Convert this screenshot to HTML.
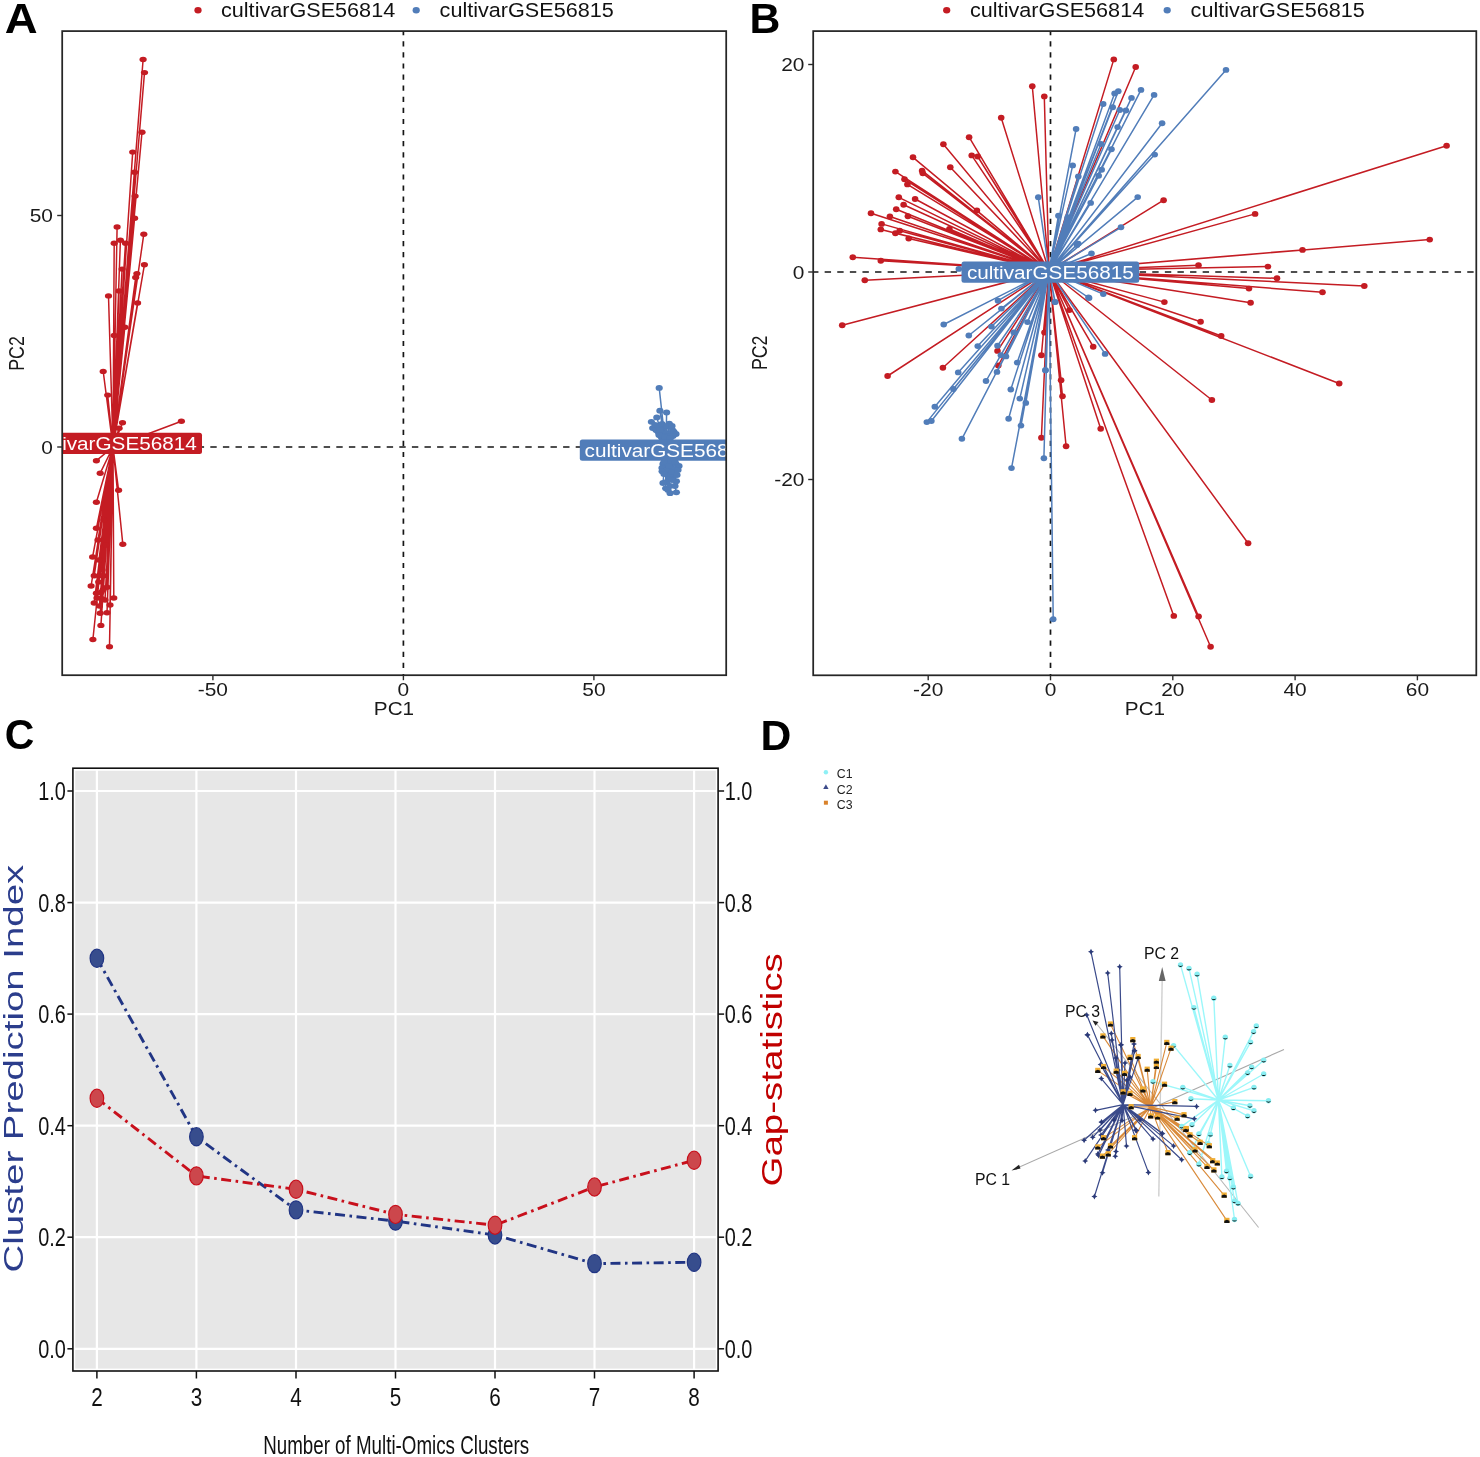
<!DOCTYPE html><html><head><meta charset="utf-8"><title>Figure</title><style>
html,body{margin:0;padding:0;background:#fff;width:1480px;height:1457px;overflow:hidden}
svg{display:block;will-change:transform}text{font-family:"Liberation Sans",sans-serif}
</style></head><body>
<svg width="1480" height="1457" viewBox="0 0 1480 1457">
<rect width="1480" height="1457" fill="#fff"/>
<defs>
<clipPath id="cA"><rect x="62.2" y="31.1" width="664.0" height="644.1"/></clipPath>
<clipPath id="cB"><rect x="813.2" y="31.1" width="663.0999999999999" height="644.1999999999999"/></clipPath>
</defs>
<text x="0" y="0" transform="translate(4.8,32.8) scale(1.066,1)" font-size="42.7" text-anchor="start" fill="#000" font-weight="bold" >A</text>
<text x="749.4" y="32.8" font-size="42.7" text-anchor="start" fill="#000" font-weight="bold" >B</text>
<text x="0" y="0" transform="translate(4.8,749.4) scale(0.96,1)" font-size="42.7" text-anchor="start" fill="#000" font-weight="bold" >C</text>
<text x="760.4" y="749.8" font-size="42.7" text-anchor="start" fill="#000" font-weight="bold" >D</text>
<g clip-path="url(#cA)">
<line x1="403.4" y1="31.1" x2="403.4" y2="675.2" stroke="#151515" stroke-width="1.7" stroke-dasharray="5.2 5.9" stroke-dashoffset="1"/>
<line x1="62.2" y1="447.0" x2="726.2" y2="447.0" stroke="#151515" stroke-width="1.7" stroke-dasharray="6.4 6.2" stroke-dashoffset="3.1"/>
<path d="M113 447L143.1 59.5M113 447L144.5 72.6M113 447L142 132.2M113 447L132.7 152.1M113 447L134.6 172.3M113 447L135.1 196.1M113 447L134.6 218.2M113 447L117.1 227M113 447L143.8 234.2M113 447L114.2 243.2M113 447L120.4 240.3M113 447L125.5 243.2M113 447L144.4 264.8M113 447L136.9 273.6M113 447L135.7 277.4M113 447L122.1 269.1M113 447L119.1 290.9M113 447L108.5 295.9M113 447L137.6 303M113 447L124.8 327.2M113 447L114.2 335.5M113 447L103.2 371.4M113 447L107.7 395.1M113 447L181.4 421.2M113 447L122.5 422.7M113 447L119.1 428.3M113 447L116 438M113 447L120 438M113 447L96.4 460.7M113 447L100.2 473.2M113 447L118.6 490.3M113 447L96.4 502.3M113 447L96.4 528.3M113 447L122.8 544.2M113 447L92.6 557M113 447L94.2 575.8M113 447L100.2 575.8M113 447L103.5 575.8M113 447L91.1 586M113 447L98.7 581.9M113 447L107 587.2M113 447L96.4 593.2M113 447L100.9 592.5M113 447L113.8 598M113 447L94.2 603M113 447L101.7 598.8M113 447L99.4 606M113 447L100.2 613.3M113 447L107 612.8M113 447L100.9 625.4M113 447L92.9 639.5M113 447L109.5 646.8M113 447L104 520M113 447L106 545M113 447L99 560M113 447L103 590M113 447L97 598M113 447L105 600M113 447L110 605M113 447L102 570M113 447L98 540" stroke="#C41C23" stroke-width="1.5" fill="none" stroke-linecap="round"/>
<ellipse cx="143.1" cy="59.5" rx="3.6" ry="2.7" fill="#C41C23"/>
<ellipse cx="144.5" cy="72.6" rx="3.6" ry="2.7" fill="#C41C23"/>
<ellipse cx="142" cy="132.2" rx="3.6" ry="2.7" fill="#C41C23"/>
<ellipse cx="132.7" cy="152.1" rx="3.6" ry="2.7" fill="#C41C23"/>
<ellipse cx="134.6" cy="172.3" rx="3.6" ry="2.7" fill="#C41C23"/>
<ellipse cx="135.1" cy="196.1" rx="3.6" ry="2.7" fill="#C41C23"/>
<ellipse cx="134.6" cy="218.2" rx="3.6" ry="2.7" fill="#C41C23"/>
<ellipse cx="117.1" cy="227" rx="3.6" ry="2.7" fill="#C41C23"/>
<ellipse cx="143.8" cy="234.2" rx="3.6" ry="2.7" fill="#C41C23"/>
<ellipse cx="114.2" cy="243.2" rx="3.6" ry="2.7" fill="#C41C23"/>
<ellipse cx="120.4" cy="240.3" rx="3.6" ry="2.7" fill="#C41C23"/>
<ellipse cx="125.5" cy="243.2" rx="3.6" ry="2.7" fill="#C41C23"/>
<ellipse cx="144.4" cy="264.8" rx="3.6" ry="2.7" fill="#C41C23"/>
<ellipse cx="136.9" cy="273.6" rx="3.6" ry="2.7" fill="#C41C23"/>
<ellipse cx="135.7" cy="277.4" rx="3.6" ry="2.7" fill="#C41C23"/>
<ellipse cx="122.1" cy="269.1" rx="3.6" ry="2.7" fill="#C41C23"/>
<ellipse cx="119.1" cy="290.9" rx="3.6" ry="2.7" fill="#C41C23"/>
<ellipse cx="108.5" cy="295.9" rx="3.6" ry="2.7" fill="#C41C23"/>
<ellipse cx="137.6" cy="303" rx="3.6" ry="2.7" fill="#C41C23"/>
<ellipse cx="124.8" cy="327.2" rx="3.6" ry="2.7" fill="#C41C23"/>
<ellipse cx="114.2" cy="335.5" rx="3.6" ry="2.7" fill="#C41C23"/>
<ellipse cx="103.2" cy="371.4" rx="3.6" ry="2.7" fill="#C41C23"/>
<ellipse cx="107.7" cy="395.1" rx="3.6" ry="2.7" fill="#C41C23"/>
<ellipse cx="181.4" cy="421.2" rx="3.6" ry="2.7" fill="#C41C23"/>
<ellipse cx="122.5" cy="422.7" rx="3.6" ry="2.7" fill="#C41C23"/>
<ellipse cx="119.1" cy="428.3" rx="3.6" ry="2.7" fill="#C41C23"/>
<ellipse cx="116" cy="438" rx="3.6" ry="2.7" fill="#C41C23"/>
<ellipse cx="120" cy="438" rx="3.6" ry="2.7" fill="#C41C23"/>
<ellipse cx="96.4" cy="460.7" rx="3.6" ry="2.7" fill="#C41C23"/>
<ellipse cx="100.2" cy="473.2" rx="3.6" ry="2.7" fill="#C41C23"/>
<ellipse cx="118.6" cy="490.3" rx="3.6" ry="2.7" fill="#C41C23"/>
<ellipse cx="96.4" cy="502.3" rx="3.6" ry="2.7" fill="#C41C23"/>
<ellipse cx="96.4" cy="528.3" rx="3.6" ry="2.7" fill="#C41C23"/>
<ellipse cx="122.8" cy="544.2" rx="3.6" ry="2.7" fill="#C41C23"/>
<ellipse cx="92.6" cy="557" rx="3.6" ry="2.7" fill="#C41C23"/>
<ellipse cx="94.2" cy="575.8" rx="3.6" ry="2.7" fill="#C41C23"/>
<ellipse cx="100.2" cy="575.8" rx="3.6" ry="2.7" fill="#C41C23"/>
<ellipse cx="103.5" cy="575.8" rx="3.6" ry="2.7" fill="#C41C23"/>
<ellipse cx="91.1" cy="586" rx="3.6" ry="2.7" fill="#C41C23"/>
<ellipse cx="98.7" cy="581.9" rx="3.6" ry="2.7" fill="#C41C23"/>
<ellipse cx="107" cy="587.2" rx="3.6" ry="2.7" fill="#C41C23"/>
<ellipse cx="96.4" cy="593.2" rx="3.6" ry="2.7" fill="#C41C23"/>
<ellipse cx="100.9" cy="592.5" rx="3.6" ry="2.7" fill="#C41C23"/>
<ellipse cx="113.8" cy="598" rx="3.6" ry="2.7" fill="#C41C23"/>
<ellipse cx="94.2" cy="603" rx="3.6" ry="2.7" fill="#C41C23"/>
<ellipse cx="101.7" cy="598.8" rx="3.6" ry="2.7" fill="#C41C23"/>
<ellipse cx="99.4" cy="606" rx="3.6" ry="2.7" fill="#C41C23"/>
<ellipse cx="100.2" cy="613.3" rx="3.6" ry="2.7" fill="#C41C23"/>
<ellipse cx="107" cy="612.8" rx="3.6" ry="2.7" fill="#C41C23"/>
<ellipse cx="100.9" cy="625.4" rx="3.6" ry="2.7" fill="#C41C23"/>
<ellipse cx="92.9" cy="639.5" rx="3.6" ry="2.7" fill="#C41C23"/>
<ellipse cx="109.5" cy="646.8" rx="3.6" ry="2.7" fill="#C41C23"/>
<ellipse cx="104" cy="520" rx="3.6" ry="2.7" fill="#C41C23"/>
<ellipse cx="106" cy="545" rx="3.6" ry="2.7" fill="#C41C23"/>
<ellipse cx="99" cy="560" rx="3.6" ry="2.7" fill="#C41C23"/>
<ellipse cx="103" cy="590" rx="3.6" ry="2.7" fill="#C41C23"/>
<ellipse cx="97" cy="598" rx="3.6" ry="2.7" fill="#C41C23"/>
<ellipse cx="105" cy="600" rx="3.6" ry="2.7" fill="#C41C23"/>
<ellipse cx="110" cy="605" rx="3.6" ry="2.7" fill="#C41C23"/>
<ellipse cx="102" cy="570" rx="3.6" ry="2.7" fill="#C41C23"/>
<ellipse cx="98" cy="540" rx="3.6" ry="2.7" fill="#C41C23"/>
<path d="M666 450L659.2 387.9M666 450L659.9 410.7M666 450L666.6 412.5M666 450L656.8 417.4M666 450L651.4 421.8M666 450L669.3 423.6M666 450L652.7 428.1M666 450L672.8 430.3M666 450L660 432M666 450L665 433M666 450L670 434M666 450L674 432M666 450L662 436M666 450L668 436M666 450L656 430M666 450L671 427M666 450L664 428M666 450L663 464M666 450L670 463M666 450L676 464M666 450L679 466M666 450L662 468M666 450L667 470M666 450L674 469M666 450L662.1 471.3M666 450L668 475M666 450L673 477M666 450L666.6 482M666 450L676.4 481.2M666 450L665.7 488.3M666 450L670.1 493.2M666 450L676.4 492.3M666 450L670 486M666 450L672 472M666 450L677 475M666 450L658 426M666 450L662 424M666 450L667 426M666 450L672 426M666 450L660 430M666 450L676 434M666 450L655 425M666 450L673 436M666 450L659 435M666 450L665 437M666 450L670 438M666 450L664 462M666 450L675 462M666 450L669 466M666 450L678 470M666 450L664 474M666 450L670 479M666 450L675 486M666 450L668 490M666 450L663 483M666 450L672 480" stroke="#517DB9" stroke-width="1.5" fill="none" stroke-linecap="round"/>
<ellipse cx="659.2" cy="387.9" rx="3.6" ry="2.9" fill="#517DB9"/>
<ellipse cx="659.9" cy="410.7" rx="3.6" ry="2.9" fill="#517DB9"/>
<ellipse cx="666.6" cy="412.5" rx="3.6" ry="2.9" fill="#517DB9"/>
<ellipse cx="656.8" cy="417.4" rx="3.6" ry="2.9" fill="#517DB9"/>
<ellipse cx="651.4" cy="421.8" rx="3.6" ry="2.9" fill="#517DB9"/>
<ellipse cx="669.3" cy="423.6" rx="3.6" ry="2.9" fill="#517DB9"/>
<ellipse cx="652.7" cy="428.1" rx="3.6" ry="2.9" fill="#517DB9"/>
<ellipse cx="672.8" cy="430.3" rx="3.6" ry="2.9" fill="#517DB9"/>
<ellipse cx="660" cy="432" rx="3.6" ry="2.9" fill="#517DB9"/>
<ellipse cx="665" cy="433" rx="3.6" ry="2.9" fill="#517DB9"/>
<ellipse cx="670" cy="434" rx="3.6" ry="2.9" fill="#517DB9"/>
<ellipse cx="674" cy="432" rx="3.6" ry="2.9" fill="#517DB9"/>
<ellipse cx="662" cy="436" rx="3.6" ry="2.9" fill="#517DB9"/>
<ellipse cx="668" cy="436" rx="3.6" ry="2.9" fill="#517DB9"/>
<ellipse cx="656" cy="430" rx="3.6" ry="2.9" fill="#517DB9"/>
<ellipse cx="671" cy="427" rx="3.6" ry="2.9" fill="#517DB9"/>
<ellipse cx="664" cy="428" rx="3.6" ry="2.9" fill="#517DB9"/>
<ellipse cx="663" cy="464" rx="3.6" ry="2.9" fill="#517DB9"/>
<ellipse cx="670" cy="463" rx="3.6" ry="2.9" fill="#517DB9"/>
<ellipse cx="676" cy="464" rx="3.6" ry="2.9" fill="#517DB9"/>
<ellipse cx="679" cy="466" rx="3.6" ry="2.9" fill="#517DB9"/>
<ellipse cx="662" cy="468" rx="3.6" ry="2.9" fill="#517DB9"/>
<ellipse cx="667" cy="470" rx="3.6" ry="2.9" fill="#517DB9"/>
<ellipse cx="674" cy="469" rx="3.6" ry="2.9" fill="#517DB9"/>
<ellipse cx="662.1" cy="471.3" rx="3.6" ry="2.9" fill="#517DB9"/>
<ellipse cx="668" cy="475" rx="3.6" ry="2.9" fill="#517DB9"/>
<ellipse cx="673" cy="477" rx="3.6" ry="2.9" fill="#517DB9"/>
<ellipse cx="666.6" cy="482" rx="3.6" ry="2.9" fill="#517DB9"/>
<ellipse cx="676.4" cy="481.2" rx="3.6" ry="2.9" fill="#517DB9"/>
<ellipse cx="665.7" cy="488.3" rx="3.6" ry="2.9" fill="#517DB9"/>
<ellipse cx="670.1" cy="493.2" rx="3.6" ry="2.9" fill="#517DB9"/>
<ellipse cx="676.4" cy="492.3" rx="3.6" ry="2.9" fill="#517DB9"/>
<ellipse cx="670" cy="486" rx="3.6" ry="2.9" fill="#517DB9"/>
<ellipse cx="672" cy="472" rx="3.6" ry="2.9" fill="#517DB9"/>
<ellipse cx="677" cy="475" rx="3.6" ry="2.9" fill="#517DB9"/>
<ellipse cx="658" cy="426" rx="3.6" ry="2.9" fill="#517DB9"/>
<ellipse cx="662" cy="424" rx="3.6" ry="2.9" fill="#517DB9"/>
<ellipse cx="667" cy="426" rx="3.6" ry="2.9" fill="#517DB9"/>
<ellipse cx="672" cy="426" rx="3.6" ry="2.9" fill="#517DB9"/>
<ellipse cx="660" cy="430" rx="3.6" ry="2.9" fill="#517DB9"/>
<ellipse cx="676" cy="434" rx="3.6" ry="2.9" fill="#517DB9"/>
<ellipse cx="655" cy="425" rx="3.6" ry="2.9" fill="#517DB9"/>
<ellipse cx="673" cy="436" rx="3.6" ry="2.9" fill="#517DB9"/>
<ellipse cx="659" cy="435" rx="3.6" ry="2.9" fill="#517DB9"/>
<ellipse cx="665" cy="437" rx="3.6" ry="2.9" fill="#517DB9"/>
<ellipse cx="670" cy="438" rx="3.6" ry="2.9" fill="#517DB9"/>
<ellipse cx="664" cy="462" rx="3.6" ry="2.9" fill="#517DB9"/>
<ellipse cx="675" cy="462" rx="3.6" ry="2.9" fill="#517DB9"/>
<ellipse cx="669" cy="466" rx="3.6" ry="2.9" fill="#517DB9"/>
<ellipse cx="678" cy="470" rx="3.6" ry="2.9" fill="#517DB9"/>
<ellipse cx="664" cy="474" rx="3.6" ry="2.9" fill="#517DB9"/>
<ellipse cx="670" cy="479" rx="3.6" ry="2.9" fill="#517DB9"/>
<ellipse cx="675" cy="486" rx="3.6" ry="2.9" fill="#517DB9"/>
<ellipse cx="668" cy="490" rx="3.6" ry="2.9" fill="#517DB9"/>
<ellipse cx="663" cy="483" rx="3.6" ry="2.9" fill="#517DB9"/>
<ellipse cx="672" cy="480" rx="3.6" ry="2.9" fill="#517DB9"/>
<rect x="30" y="432.7" width="172" height="21.3" rx="2.5" fill="#C41C23"/>
<text x="0" y="0" transform="translate(196.8,450.3) scale(1.108,1)" font-size="18.7" text-anchor="end" fill="#fff" font-weight="normal" >cultivarGSE56814</text>
<rect x="579.8" y="439.5" width="200" height="21.2" rx="2.5" fill="#517DB9"/>
<text x="0" y="0" transform="translate(584.6,457) scale(1.108,1)" font-size="18.7" text-anchor="start" fill="#fff" font-weight="normal" >cultivarGSE56815</text>
</g>
<rect x="62.2" y="31.1" width="664" height="644.1" fill="none" stroke="#262626" stroke-width="1.75"/>
<line x1="212.9" y1="675.2" x2="212.9" y2="680.2" stroke="#2b2b2b" stroke-width="1.4"/>
<text x="0" y="0" transform="translate(212.9,695.9) scale(1.1,1)" font-size="19" text-anchor="middle" fill="#1a1a1a" font-weight="normal" >-50</text>
<line x1="403.4" y1="675.2" x2="403.4" y2="680.2" stroke="#2b2b2b" stroke-width="1.4"/>
<text x="0" y="0" transform="translate(403.4,695.9) scale(1.1,1)" font-size="19" text-anchor="middle" fill="#1a1a1a" font-weight="normal" >0</text>
<line x1="593.9" y1="675.2" x2="593.9" y2="680.2" stroke="#2b2b2b" stroke-width="1.4"/>
<text x="0" y="0" transform="translate(593.9,695.9) scale(1.1,1)" font-size="19" text-anchor="middle" fill="#1a1a1a" font-weight="normal" >50</text>
<line x1="57.2" y1="447.0" x2="62.2" y2="447.0" stroke="#2b2b2b" stroke-width="1.4"/>
<text x="0" y="0" transform="translate(53,453.6) scale(1.1,1)" font-size="19" text-anchor="end" fill="#1a1a1a" font-weight="normal" >0</text>
<line x1="57.2" y1="215.5" x2="62.2" y2="215.5" stroke="#2b2b2b" stroke-width="1.4"/>
<text x="0" y="0" transform="translate(53,222.1) scale(1.1,1)" font-size="19" text-anchor="end" fill="#1a1a1a" font-weight="normal" >50</text>
<text x="0" y="0" transform="translate(394,715) scale(1.12,1)" font-size="18.5" text-anchor="middle" fill="#1a1a1a" font-weight="normal" >PC1</text>
<text x="0" y="0" transform="translate(24.4,353.5) rotate(-90) scale(0.96,1.16)" font-size="18.5" text-anchor="middle" fill="#1a1a1a" font-weight="normal" >PC2</text>
<ellipse cx="198" cy="10.2" rx="3.6" ry="3.2" fill="#C41C23"/>
<text x="0" y="0" transform="translate(221,17) scale(1.12,1)" font-size="19.3" text-anchor="start" fill="#111" font-weight="normal" >cultivarGSE56814</text>
<ellipse cx="416.2" cy="10.2" rx="3.6" ry="3.2" fill="#517DB9"/>
<text x="0" y="0" transform="translate(439.6,17) scale(1.12,1)" font-size="19.3" text-anchor="start" fill="#111" font-weight="normal" >cultivarGSE56815</text>
<g clip-path="url(#cB)">
<line x1="1050.5" y1="31.1" x2="1050.5" y2="675.3" stroke="#151515" stroke-width="1.7" stroke-dasharray="5.2 5.9" stroke-dashoffset="1"/>
<line x1="813.2" y1="272.0" x2="1476.3" y2="272.0" stroke="#151515" stroke-width="1.7" stroke-dasharray="6.4 6.2" stroke-dashoffset="1.15"/>
<path d="M1049 271L1032.3 86.3M1049 271L1044.3 96.4M1049 271L1001.2 117.7M1049 271L969.1 137.2M1049 271L943.4 144.3M1049 271L971.7 155.4M1049 271L977.7 156.5M1049 271L913 157.3M1049 271L950.3 167.3M1049 271L895.4 171.6M1049 271L922.1 170.7M1049 271L922.8 173.3M1049 271L904.5 179.3M1049 271L907.4 184.4M1049 271L898.8 197.3M1049 271L915.1 199M1049 271L903.6 204.7M1049 271L896.2 209.3M1049 271L871 213.3M1049 271L889.9 216.5M1049 271L907.9 216.2M1049 271L976.9 210.5M1049 271L881.6 223.9M1049 271L880.8 229.4M1049 271L899.7 230.8M1049 271L895.4 233.3M1049 271L908.7 238.5M1049 271L949.4 229M1049 271L852.8 257.3M1049 271L880.8 260.8M1049 271L864.8 280.2M1049 271L1113.8 59.4M1049 271L1135.7 67M1049 271L1163.6 200.2M1049 271L1446.6 145.7M1049 271L1255.1 213.9M1049 271L1429.7 239.6M1049 271L1302.5 249.9M1049 271L1198.5 265.2M1049 271L1267.9 266.6M1049 271L1277 278.3M1049 271L1364.3 286M1049 271L1249 288.6M1049 271L1322.5 292.3M1049 271L1250.6 302.8M1049 271L1200.6 321.8M1049 271L1221.2 336M1049 271L1339.2 383.5M1049 271L1211.9 400M1049 271L1164.4 302.1M1049 271L1093.2 346.7M1049 271L1061.1 380.3M1049 271L1062.5 396.2M1049 271L1100.7 428.8M1049 271L1066.1 446.3M1049 271L1041.4 437.7M1049 271L1041.4 355.3M1049 271L1044.5 332.5M1049 271L1069.4 310.1M1049 271L1248.1 543.3M1049 271L1173.8 615.9M1049 271L1198.6 616.5M1049 271L1210.6 646.8M1049 271L842.2 325.2M1049 271L887.6 376M1049 271L942.9 367.8M1049 271L997.5 350.9M1049 271L998.3 365.5" stroke="#C41C23" stroke-width="1.5" fill="none" stroke-linecap="round"/>
<ellipse cx="1032.3" cy="86.3" rx="3.3" ry="2.95" fill="#C41C23"/>
<ellipse cx="1044.3" cy="96.4" rx="3.3" ry="2.95" fill="#C41C23"/>
<ellipse cx="1001.2" cy="117.7" rx="3.3" ry="2.95" fill="#C41C23"/>
<ellipse cx="969.1" cy="137.2" rx="3.3" ry="2.95" fill="#C41C23"/>
<ellipse cx="943.4" cy="144.3" rx="3.3" ry="2.95" fill="#C41C23"/>
<ellipse cx="971.7" cy="155.4" rx="3.3" ry="2.95" fill="#C41C23"/>
<ellipse cx="977.7" cy="156.5" rx="3.3" ry="2.95" fill="#C41C23"/>
<ellipse cx="913" cy="157.3" rx="3.3" ry="2.95" fill="#C41C23"/>
<ellipse cx="950.3" cy="167.3" rx="3.3" ry="2.95" fill="#C41C23"/>
<ellipse cx="895.4" cy="171.6" rx="3.3" ry="2.95" fill="#C41C23"/>
<ellipse cx="922.1" cy="170.7" rx="3.3" ry="2.95" fill="#C41C23"/>
<ellipse cx="922.8" cy="173.3" rx="3.3" ry="2.95" fill="#C41C23"/>
<ellipse cx="904.5" cy="179.3" rx="3.3" ry="2.95" fill="#C41C23"/>
<ellipse cx="907.4" cy="184.4" rx="3.3" ry="2.95" fill="#C41C23"/>
<ellipse cx="898.8" cy="197.3" rx="3.3" ry="2.95" fill="#C41C23"/>
<ellipse cx="915.1" cy="199" rx="3.3" ry="2.95" fill="#C41C23"/>
<ellipse cx="903.6" cy="204.7" rx="3.3" ry="2.95" fill="#C41C23"/>
<ellipse cx="896.2" cy="209.3" rx="3.3" ry="2.95" fill="#C41C23"/>
<ellipse cx="871" cy="213.3" rx="3.3" ry="2.95" fill="#C41C23"/>
<ellipse cx="889.9" cy="216.5" rx="3.3" ry="2.95" fill="#C41C23"/>
<ellipse cx="907.9" cy="216.2" rx="3.3" ry="2.95" fill="#C41C23"/>
<ellipse cx="976.9" cy="210.5" rx="3.3" ry="2.95" fill="#C41C23"/>
<ellipse cx="881.6" cy="223.9" rx="3.3" ry="2.95" fill="#C41C23"/>
<ellipse cx="880.8" cy="229.4" rx="3.3" ry="2.95" fill="#C41C23"/>
<ellipse cx="899.7" cy="230.8" rx="3.3" ry="2.95" fill="#C41C23"/>
<ellipse cx="895.4" cy="233.3" rx="3.3" ry="2.95" fill="#C41C23"/>
<ellipse cx="908.7" cy="238.5" rx="3.3" ry="2.95" fill="#C41C23"/>
<ellipse cx="949.4" cy="229" rx="3.3" ry="2.95" fill="#C41C23"/>
<ellipse cx="852.8" cy="257.3" rx="3.3" ry="2.95" fill="#C41C23"/>
<ellipse cx="880.8" cy="260.8" rx="3.3" ry="2.95" fill="#C41C23"/>
<ellipse cx="864.8" cy="280.2" rx="3.3" ry="2.95" fill="#C41C23"/>
<ellipse cx="1113.8" cy="59.4" rx="3.3" ry="2.95" fill="#C41C23"/>
<ellipse cx="1135.7" cy="67" rx="3.3" ry="2.95" fill="#C41C23"/>
<ellipse cx="1163.6" cy="200.2" rx="3.3" ry="2.95" fill="#C41C23"/>
<ellipse cx="1446.6" cy="145.7" rx="3.3" ry="2.95" fill="#C41C23"/>
<ellipse cx="1255.1" cy="213.9" rx="3.3" ry="2.95" fill="#C41C23"/>
<ellipse cx="1429.7" cy="239.6" rx="3.3" ry="2.95" fill="#C41C23"/>
<ellipse cx="1302.5" cy="249.9" rx="3.3" ry="2.95" fill="#C41C23"/>
<ellipse cx="1198.5" cy="265.2" rx="3.3" ry="2.95" fill="#C41C23"/>
<ellipse cx="1267.9" cy="266.6" rx="3.3" ry="2.95" fill="#C41C23"/>
<ellipse cx="1277" cy="278.3" rx="3.3" ry="2.95" fill="#C41C23"/>
<ellipse cx="1364.3" cy="286" rx="3.3" ry="2.95" fill="#C41C23"/>
<ellipse cx="1249" cy="288.6" rx="3.3" ry="2.95" fill="#C41C23"/>
<ellipse cx="1322.5" cy="292.3" rx="3.3" ry="2.95" fill="#C41C23"/>
<ellipse cx="1250.6" cy="302.8" rx="3.3" ry="2.95" fill="#C41C23"/>
<ellipse cx="1200.6" cy="321.8" rx="3.3" ry="2.95" fill="#C41C23"/>
<ellipse cx="1221.2" cy="336" rx="3.3" ry="2.95" fill="#C41C23"/>
<ellipse cx="1339.2" cy="383.5" rx="3.3" ry="2.95" fill="#C41C23"/>
<ellipse cx="1211.9" cy="400" rx="3.3" ry="2.95" fill="#C41C23"/>
<ellipse cx="1164.4" cy="302.1" rx="3.3" ry="2.95" fill="#C41C23"/>
<ellipse cx="1093.2" cy="346.7" rx="3.3" ry="2.95" fill="#C41C23"/>
<ellipse cx="1061.1" cy="380.3" rx="3.3" ry="2.95" fill="#C41C23"/>
<ellipse cx="1062.5" cy="396.2" rx="3.3" ry="2.95" fill="#C41C23"/>
<ellipse cx="1100.7" cy="428.8" rx="3.3" ry="2.95" fill="#C41C23"/>
<ellipse cx="1066.1" cy="446.3" rx="3.3" ry="2.95" fill="#C41C23"/>
<ellipse cx="1041.4" cy="437.7" rx="3.3" ry="2.95" fill="#C41C23"/>
<ellipse cx="1041.4" cy="355.3" rx="3.3" ry="2.95" fill="#C41C23"/>
<ellipse cx="1044.5" cy="332.5" rx="3.3" ry="2.95" fill="#C41C23"/>
<ellipse cx="1069.4" cy="310.1" rx="3.3" ry="2.95" fill="#C41C23"/>
<ellipse cx="1248.1" cy="543.3" rx="3.3" ry="2.95" fill="#C41C23"/>
<ellipse cx="1173.8" cy="615.9" rx="3.3" ry="2.95" fill="#C41C23"/>
<ellipse cx="1198.6" cy="616.5" rx="3.3" ry="2.95" fill="#C41C23"/>
<ellipse cx="1210.6" cy="646.8" rx="3.3" ry="2.95" fill="#C41C23"/>
<ellipse cx="842.2" cy="325.2" rx="3.3" ry="2.95" fill="#C41C23"/>
<ellipse cx="887.6" cy="376" rx="3.3" ry="2.95" fill="#C41C23"/>
<ellipse cx="942.9" cy="367.8" rx="3.3" ry="2.95" fill="#C41C23"/>
<ellipse cx="997.5" cy="350.9" rx="3.3" ry="2.95" fill="#C41C23"/>
<ellipse cx="998.3" cy="365.5" rx="3.3" ry="2.95" fill="#C41C23"/>
<path d="M1049 271L1038.3 197.3M1049 271L1058.4 215.7M1049 271L1226 69.9M1049 271L1114.6 93.4M1049 271L1118.3 91.2M1049 271L1141 89.9M1049 271L1154.1 94.9M1049 271L1131.5 97.9M1049 271L1103.2 104M1049 271L1112.7 107.3M1049 271L1119.8 110M1049 271L1125.9 110.5M1049 271L1162.1 123.3M1049 271L1076.1 129M1049 271L1117.6 127.1M1049 271L1101 144M1049 271L1111.5 149.3M1049 271L1154.7 154.6M1049 271L1072.7 165.4M1049 271L1101.7 169.7M1049 271L1098.7 175.7M1049 271L1078.3 176.5M1049 271L1137.7 197.1M1049 271L1090.7 202.9M1049 271L1067.7 217.2M1049 271L1121 227.3M1049 271L1078.3 243.6M1049 271L1091.5 253.5M1049 271L1077 245M1049 271L1089.1 298M1049 271L1103.3 294.1M1049 271L1055.2 302.1M1049 271L1105.1 353.9M1049 271L1045.4 370.3M1049 271L1043.9 458.3M1049 271L1053.2 619.2M1049 271L958.8 268.9M1049 271L998 300.7M1049 271L1001.4 308.6M1049 271L943.7 324.5M1049 271L991.4 326.6M1049 271L968.8 335.5M1049 271L977.7 346.1M1049 271L997.5 345.8M1049 271L1027.5 322.1M1049 271L1013.8 332.4M1049 271L1054.9 302M1049 271L1000.9 355.2M1049 271L1006 356.4M1049 271L1017.2 362.6M1049 271L958.2 372.4M1049 271L997 371.9M1049 271L1045.5 370.2M1049 271L986 381M1049 271L953.4 389M1049 271L1010.8 389.5M1049 271L1019.8 398.6M1049 271L1025.8 402.9M1049 271L934.8 406.7M1049 271L926.8 422.1M1049 271L931.4 421M1049 271L1008.6 418.7M1049 271L1021 425.6M1049 271L961.9 438.8M1049 271L1011.5 468.1M1049 271L1088.5 297.5" stroke="#517DB9" stroke-width="1.5" fill="none" stroke-linecap="round"/>
<ellipse cx="1038.3" cy="197.3" rx="3.3" ry="2.95" fill="#517DB9"/>
<ellipse cx="1058.4" cy="215.7" rx="3.3" ry="2.95" fill="#517DB9"/>
<ellipse cx="1226" cy="69.9" rx="3.3" ry="2.95" fill="#517DB9"/>
<ellipse cx="1114.6" cy="93.4" rx="3.3" ry="2.95" fill="#517DB9"/>
<ellipse cx="1118.3" cy="91.2" rx="3.3" ry="2.95" fill="#517DB9"/>
<ellipse cx="1141" cy="89.9" rx="3.3" ry="2.95" fill="#517DB9"/>
<ellipse cx="1154.1" cy="94.9" rx="3.3" ry="2.95" fill="#517DB9"/>
<ellipse cx="1131.5" cy="97.9" rx="3.3" ry="2.95" fill="#517DB9"/>
<ellipse cx="1103.2" cy="104" rx="3.3" ry="2.95" fill="#517DB9"/>
<ellipse cx="1112.7" cy="107.3" rx="3.3" ry="2.95" fill="#517DB9"/>
<ellipse cx="1119.8" cy="110" rx="3.3" ry="2.95" fill="#517DB9"/>
<ellipse cx="1125.9" cy="110.5" rx="3.3" ry="2.95" fill="#517DB9"/>
<ellipse cx="1162.1" cy="123.3" rx="3.3" ry="2.95" fill="#517DB9"/>
<ellipse cx="1076.1" cy="129" rx="3.3" ry="2.95" fill="#517DB9"/>
<ellipse cx="1117.6" cy="127.1" rx="3.3" ry="2.95" fill="#517DB9"/>
<ellipse cx="1101" cy="144" rx="3.3" ry="2.95" fill="#517DB9"/>
<ellipse cx="1111.5" cy="149.3" rx="3.3" ry="2.95" fill="#517DB9"/>
<ellipse cx="1154.7" cy="154.6" rx="3.3" ry="2.95" fill="#517DB9"/>
<ellipse cx="1072.7" cy="165.4" rx="3.3" ry="2.95" fill="#517DB9"/>
<ellipse cx="1101.7" cy="169.7" rx="3.3" ry="2.95" fill="#517DB9"/>
<ellipse cx="1098.7" cy="175.7" rx="3.3" ry="2.95" fill="#517DB9"/>
<ellipse cx="1078.3" cy="176.5" rx="3.3" ry="2.95" fill="#517DB9"/>
<ellipse cx="1137.7" cy="197.1" rx="3.3" ry="2.95" fill="#517DB9"/>
<ellipse cx="1090.7" cy="202.9" rx="3.3" ry="2.95" fill="#517DB9"/>
<ellipse cx="1067.7" cy="217.2" rx="3.3" ry="2.95" fill="#517DB9"/>
<ellipse cx="1121" cy="227.3" rx="3.3" ry="2.95" fill="#517DB9"/>
<ellipse cx="1078.3" cy="243.6" rx="3.3" ry="2.95" fill="#517DB9"/>
<ellipse cx="1091.5" cy="253.5" rx="3.3" ry="2.95" fill="#517DB9"/>
<ellipse cx="1077" cy="245" rx="3.3" ry="2.95" fill="#517DB9"/>
<ellipse cx="1089.1" cy="298" rx="3.3" ry="2.95" fill="#517DB9"/>
<ellipse cx="1103.3" cy="294.1" rx="3.3" ry="2.95" fill="#517DB9"/>
<ellipse cx="1055.2" cy="302.1" rx="3.3" ry="2.95" fill="#517DB9"/>
<ellipse cx="1105.1" cy="353.9" rx="3.3" ry="2.95" fill="#517DB9"/>
<ellipse cx="1045.4" cy="370.3" rx="3.3" ry="2.95" fill="#517DB9"/>
<ellipse cx="1043.9" cy="458.3" rx="3.3" ry="2.95" fill="#517DB9"/>
<ellipse cx="1053.2" cy="619.2" rx="3.3" ry="2.95" fill="#517DB9"/>
<ellipse cx="958.8" cy="268.9" rx="3.3" ry="2.95" fill="#517DB9"/>
<ellipse cx="998" cy="300.7" rx="3.3" ry="2.95" fill="#517DB9"/>
<ellipse cx="1001.4" cy="308.6" rx="3.3" ry="2.95" fill="#517DB9"/>
<ellipse cx="943.7" cy="324.5" rx="3.3" ry="2.95" fill="#517DB9"/>
<ellipse cx="991.4" cy="326.6" rx="3.3" ry="2.95" fill="#517DB9"/>
<ellipse cx="968.8" cy="335.5" rx="3.3" ry="2.95" fill="#517DB9"/>
<ellipse cx="977.7" cy="346.1" rx="3.3" ry="2.95" fill="#517DB9"/>
<ellipse cx="997.5" cy="345.8" rx="3.3" ry="2.95" fill="#517DB9"/>
<ellipse cx="1027.5" cy="322.1" rx="3.3" ry="2.95" fill="#517DB9"/>
<ellipse cx="1013.8" cy="332.4" rx="3.3" ry="2.95" fill="#517DB9"/>
<ellipse cx="1054.9" cy="302" rx="3.3" ry="2.95" fill="#517DB9"/>
<ellipse cx="1000.9" cy="355.2" rx="3.3" ry="2.95" fill="#517DB9"/>
<ellipse cx="1006" cy="356.4" rx="3.3" ry="2.95" fill="#517DB9"/>
<ellipse cx="1017.2" cy="362.6" rx="3.3" ry="2.95" fill="#517DB9"/>
<ellipse cx="958.2" cy="372.4" rx="3.3" ry="2.95" fill="#517DB9"/>
<ellipse cx="997" cy="371.9" rx="3.3" ry="2.95" fill="#517DB9"/>
<ellipse cx="1045.5" cy="370.2" rx="3.3" ry="2.95" fill="#517DB9"/>
<ellipse cx="986" cy="381" rx="3.3" ry="2.95" fill="#517DB9"/>
<ellipse cx="953.4" cy="389" rx="3.3" ry="2.95" fill="#517DB9"/>
<ellipse cx="1010.8" cy="389.5" rx="3.3" ry="2.95" fill="#517DB9"/>
<ellipse cx="1019.8" cy="398.6" rx="3.3" ry="2.95" fill="#517DB9"/>
<ellipse cx="1025.8" cy="402.9" rx="3.3" ry="2.95" fill="#517DB9"/>
<ellipse cx="934.8" cy="406.7" rx="3.3" ry="2.95" fill="#517DB9"/>
<ellipse cx="926.8" cy="422.1" rx="3.3" ry="2.95" fill="#517DB9"/>
<ellipse cx="931.4" cy="421" rx="3.3" ry="2.95" fill="#517DB9"/>
<ellipse cx="1008.6" cy="418.7" rx="3.3" ry="2.95" fill="#517DB9"/>
<ellipse cx="1021" cy="425.6" rx="3.3" ry="2.95" fill="#517DB9"/>
<ellipse cx="961.9" cy="438.8" rx="3.3" ry="2.95" fill="#517DB9"/>
<ellipse cx="1011.5" cy="468.1" rx="3.3" ry="2.95" fill="#517DB9"/>
<ellipse cx="1088.5" cy="297.5" rx="3.3" ry="2.95" fill="#517DB9"/>
<rect x="961.5" y="261.5" width="177.7" height="21.2" rx="2.5" fill="#517DB9"/>
<text x="0" y="0" transform="translate(966.9,279.1) scale(1.108,1)" font-size="18.7" text-anchor="start" fill="#fff" font-weight="normal" >cultivarGSE56815</text>
</g>
<rect x="813.2" y="31.1" width="663.1" height="644.2" fill="none" stroke="#262626" stroke-width="1.75"/>
<line x1="928.2" y1="675.3" x2="928.2" y2="680.3" stroke="#2b2b2b" stroke-width="1.4"/>
<text x="0" y="0" transform="translate(928.2,695.9) scale(1.1,1)" font-size="19" text-anchor="middle" fill="#1a1a1a" font-weight="normal" >-20</text>
<line x1="1050.5" y1="675.3" x2="1050.5" y2="680.3" stroke="#2b2b2b" stroke-width="1.4"/>
<text x="0" y="0" transform="translate(1050.5,695.9) scale(1.1,1)" font-size="19" text-anchor="middle" fill="#1a1a1a" font-weight="normal" >0</text>
<line x1="1172.8" y1="675.3" x2="1172.8" y2="680.3" stroke="#2b2b2b" stroke-width="1.4"/>
<text x="0" y="0" transform="translate(1172.8,695.9) scale(1.1,1)" font-size="19" text-anchor="middle" fill="#1a1a1a" font-weight="normal" >20</text>
<line x1="1295.1" y1="675.3" x2="1295.1" y2="680.3" stroke="#2b2b2b" stroke-width="1.4"/>
<text x="0" y="0" transform="translate(1295.1,695.9) scale(1.1,1)" font-size="19" text-anchor="middle" fill="#1a1a1a" font-weight="normal" >40</text>
<line x1="1417.4" y1="675.3" x2="1417.4" y2="680.3" stroke="#2b2b2b" stroke-width="1.4"/>
<text x="0" y="0" transform="translate(1417.4,695.9) scale(1.1,1)" font-size="19" text-anchor="middle" fill="#1a1a1a" font-weight="normal" >60</text>
<line x1="808.2" y1="64.5" x2="813.2" y2="64.5" stroke="#2b2b2b" stroke-width="1.4"/>
<text x="0" y="0" transform="translate(804.5,71.1) scale(1.1,1)" font-size="19" text-anchor="end" fill="#1a1a1a" font-weight="normal" >20</text>
<line x1="808.2" y1="272" x2="813.2" y2="272" stroke="#2b2b2b" stroke-width="1.4"/>
<text x="0" y="0" transform="translate(804.5,278.6) scale(1.1,1)" font-size="19" text-anchor="end" fill="#1a1a1a" font-weight="normal" >0</text>
<line x1="808.2" y1="479.5" x2="813.2" y2="479.5" stroke="#2b2b2b" stroke-width="1.4"/>
<text x="0" y="0" transform="translate(804.5,486.1) scale(1.1,1)" font-size="19" text-anchor="end" fill="#1a1a1a" font-weight="normal" >-20</text>
<text x="0" y="0" transform="translate(1145,715) scale(1.12,1)" font-size="18.5" text-anchor="middle" fill="#1a1a1a" font-weight="normal" >PC1</text>
<text x="0" y="0" transform="translate(767.2,352.8) rotate(-90) scale(0.96,1.16)" font-size="18.5" text-anchor="middle" fill="#1a1a1a" font-weight="normal" >PC2</text>
<ellipse cx="946.7" cy="10.2" rx="3.6" ry="3.2" fill="#C41C23"/>
<text x="0" y="0" transform="translate(970,17) scale(1.12,1)" font-size="19.3" text-anchor="start" fill="#111" font-weight="normal" >cultivarGSE56814</text>
<ellipse cx="1167.2" cy="10.2" rx="3.6" ry="3.2" fill="#517DB9"/>
<text x="0" y="0" transform="translate(1190.6,17) scale(1.12,1)" font-size="19.3" text-anchor="start" fill="#111" font-weight="normal" >cultivarGSE56815</text>
<rect x="75.2" y="770.8" width="640.6" height="597.8" fill="#E7E7E7"/>
<line x1="96.9" y1="768.2" x2="96.9" y2="1371.0" stroke="#fff" stroke-width="2.2"/>
<line x1="196.4" y1="768.2" x2="196.4" y2="1371.0" stroke="#fff" stroke-width="2.2"/>
<line x1="296" y1="768.2" x2="296" y2="1371.0" stroke="#fff" stroke-width="2.2"/>
<line x1="395.5" y1="768.2" x2="395.5" y2="1371.0" stroke="#fff" stroke-width="2.2"/>
<line x1="495" y1="768.2" x2="495" y2="1371.0" stroke="#fff" stroke-width="2.2"/>
<line x1="594.5" y1="768.2" x2="594.5" y2="1371.0" stroke="#fff" stroke-width="2.2"/>
<line x1="694.1" y1="768.2" x2="694.1" y2="1371.0" stroke="#fff" stroke-width="2.2"/>
<line x1="72.9" y1="1348.8" x2="718.1" y2="1348.8" stroke="#fff" stroke-width="2.2"/>
<line x1="72.9" y1="1237.2" x2="718.1" y2="1237.2" stroke="#fff" stroke-width="2.2"/>
<line x1="72.9" y1="1125.7" x2="718.1" y2="1125.7" stroke="#fff" stroke-width="2.2"/>
<line x1="72.9" y1="1014.1" x2="718.1" y2="1014.1" stroke="#fff" stroke-width="2.2"/>
<line x1="72.9" y1="902.6" x2="718.1" y2="902.6" stroke="#fff" stroke-width="2.2"/>
<line x1="72.9" y1="791" x2="718.1" y2="791" stroke="#fff" stroke-width="2.2"/>
<rect x="72.9" y="768.2" width="645.2" height="602.8" fill="none" stroke="#111" stroke-width="1.6"/>
<path d="M96.9 958.3L196.4 1136.8L296 1209.9L395.5 1221.1L495 1235L594.5 1263.6L694.1 1262.3" stroke="#213584" stroke-width="2.9" fill="none" stroke-dasharray="10 4.5 2.6 4.5"/>
<path d="M96.9 1098.3L196.4 1175.9L296 1189.3L395.5 1214.4L495 1225.2L594.5 1187L694.1 1160.3" stroke="#C8101C" stroke-width="2.9" fill="none" stroke-dasharray="10 4.5 2.6 4.5"/>
<ellipse cx="96.9" cy="958.3" rx="6.8" ry="9.1" fill="#374D8D" stroke="#213584" stroke-width="1.2"/>
<ellipse cx="196.4" cy="1136.8" rx="6.8" ry="9.1" fill="#374D8D" stroke="#213584" stroke-width="1.2"/>
<ellipse cx="296" cy="1209.9" rx="6.8" ry="9.1" fill="#374D8D" stroke="#213584" stroke-width="1.2"/>
<ellipse cx="395.5" cy="1221.1" rx="6.8" ry="9.1" fill="#374D8D" stroke="#213584" stroke-width="1.2"/>
<ellipse cx="495" cy="1235" rx="6.8" ry="9.1" fill="#374D8D" stroke="#213584" stroke-width="1.2"/>
<ellipse cx="594.5" cy="1263.6" rx="6.8" ry="9.1" fill="#374D8D" stroke="#213584" stroke-width="1.2"/>
<ellipse cx="694.1" cy="1262.3" rx="6.8" ry="9.1" fill="#374D8D" stroke="#213584" stroke-width="1.2"/>
<ellipse cx="96.9" cy="1098.3" rx="6.8" ry="9.1" fill="#CC474C" stroke="#C8101C" stroke-width="1.2"/>
<ellipse cx="196.4" cy="1175.9" rx="6.8" ry="9.1" fill="#CC474C" stroke="#C8101C" stroke-width="1.2"/>
<ellipse cx="296" cy="1189.3" rx="6.8" ry="9.1" fill="#CC474C" stroke="#C8101C" stroke-width="1.2"/>
<ellipse cx="395.5" cy="1214.4" rx="6.8" ry="9.1" fill="#CC474C" stroke="#C8101C" stroke-width="1.2"/>
<ellipse cx="495" cy="1225.2" rx="6.8" ry="9.1" fill="#CC474C" stroke="#C8101C" stroke-width="1.2"/>
<ellipse cx="594.5" cy="1187" rx="6.8" ry="9.1" fill="#CC474C" stroke="#C8101C" stroke-width="1.2"/>
<ellipse cx="694.1" cy="1160.3" rx="6.8" ry="9.1" fill="#CC474C" stroke="#C8101C" stroke-width="1.2"/>
<line x1="67.4" y1="1348.8" x2="72.9" y2="1348.8" stroke="#111" stroke-width="1.5"/>
<line x1="718.1" y1="1348.8" x2="724.1" y2="1348.8" stroke="#111" stroke-width="1.5"/>
<text x="0" y="0" transform="translate(65.8,1357.8) scale(0.75,1)" font-size="26.5" text-anchor="end" fill="#111" font-weight="normal" >0.0</text>
<text x="0" y="0" transform="translate(724.8,1357.8) scale(0.75,1)" font-size="26.5" text-anchor="start" fill="#111" font-weight="normal" >0.0</text>
<line x1="67.4" y1="1237.2" x2="72.9" y2="1237.2" stroke="#111" stroke-width="1.5"/>
<line x1="718.1" y1="1237.2" x2="724.1" y2="1237.2" stroke="#111" stroke-width="1.5"/>
<text x="0" y="0" transform="translate(65.8,1246.2) scale(0.75,1)" font-size="26.5" text-anchor="end" fill="#111" font-weight="normal" >0.2</text>
<text x="0" y="0" transform="translate(724.8,1246.2) scale(0.75,1)" font-size="26.5" text-anchor="start" fill="#111" font-weight="normal" >0.2</text>
<line x1="67.4" y1="1125.7" x2="72.9" y2="1125.7" stroke="#111" stroke-width="1.5"/>
<line x1="718.1" y1="1125.7" x2="724.1" y2="1125.7" stroke="#111" stroke-width="1.5"/>
<text x="0" y="0" transform="translate(65.8,1134.7) scale(0.75,1)" font-size="26.5" text-anchor="end" fill="#111" font-weight="normal" >0.4</text>
<text x="0" y="0" transform="translate(724.8,1134.7) scale(0.75,1)" font-size="26.5" text-anchor="start" fill="#111" font-weight="normal" >0.4</text>
<line x1="67.4" y1="1014.1" x2="72.9" y2="1014.1" stroke="#111" stroke-width="1.5"/>
<line x1="718.1" y1="1014.1" x2="724.1" y2="1014.1" stroke="#111" stroke-width="1.5"/>
<text x="0" y="0" transform="translate(65.8,1023.1) scale(0.75,1)" font-size="26.5" text-anchor="end" fill="#111" font-weight="normal" >0.6</text>
<text x="0" y="0" transform="translate(724.8,1023.1) scale(0.75,1)" font-size="26.5" text-anchor="start" fill="#111" font-weight="normal" >0.6</text>
<line x1="67.4" y1="902.6" x2="72.9" y2="902.6" stroke="#111" stroke-width="1.5"/>
<line x1="718.1" y1="902.6" x2="724.1" y2="902.6" stroke="#111" stroke-width="1.5"/>
<text x="0" y="0" transform="translate(65.8,911.6) scale(0.75,1)" font-size="26.5" text-anchor="end" fill="#111" font-weight="normal" >0.8</text>
<text x="0" y="0" transform="translate(724.8,911.6) scale(0.75,1)" font-size="26.5" text-anchor="start" fill="#111" font-weight="normal" >0.8</text>
<line x1="67.4" y1="791" x2="72.9" y2="791" stroke="#111" stroke-width="1.5"/>
<line x1="718.1" y1="791" x2="724.1" y2="791" stroke="#111" stroke-width="1.5"/>
<text x="0" y="0" transform="translate(65.8,800) scale(0.75,1)" font-size="26.5" text-anchor="end" fill="#111" font-weight="normal" >1.0</text>
<text x="0" y="0" transform="translate(724.8,800) scale(0.75,1)" font-size="26.5" text-anchor="start" fill="#111" font-weight="normal" >1.0</text>
<line x1="96.9" y1="1371.0" x2="96.9" y2="1378.5" stroke="#111" stroke-width="1.5"/>
<text x="0" y="0" transform="translate(96.9,1406.3) scale(0.78,1)" font-size="26.5" text-anchor="middle" fill="#111" font-weight="normal" >2</text>
<line x1="196.4" y1="1371.0" x2="196.4" y2="1378.5" stroke="#111" stroke-width="1.5"/>
<text x="0" y="0" transform="translate(196.4,1406.3) scale(0.78,1)" font-size="26.5" text-anchor="middle" fill="#111" font-weight="normal" >3</text>
<line x1="296" y1="1371.0" x2="296" y2="1378.5" stroke="#111" stroke-width="1.5"/>
<text x="0" y="0" transform="translate(296,1406.3) scale(0.78,1)" font-size="26.5" text-anchor="middle" fill="#111" font-weight="normal" >4</text>
<line x1="395.5" y1="1371.0" x2="395.5" y2="1378.5" stroke="#111" stroke-width="1.5"/>
<text x="0" y="0" transform="translate(395.5,1406.3) scale(0.78,1)" font-size="26.5" text-anchor="middle" fill="#111" font-weight="normal" >5</text>
<line x1="495" y1="1371.0" x2="495" y2="1378.5" stroke="#111" stroke-width="1.5"/>
<text x="0" y="0" transform="translate(495,1406.3) scale(0.78,1)" font-size="26.5" text-anchor="middle" fill="#111" font-weight="normal" >6</text>
<line x1="594.5" y1="1371.0" x2="594.5" y2="1378.5" stroke="#111" stroke-width="1.5"/>
<text x="0" y="0" transform="translate(594.5,1406.3) scale(0.78,1)" font-size="26.5" text-anchor="middle" fill="#111" font-weight="normal" >7</text>
<line x1="694.1" y1="1371.0" x2="694.1" y2="1378.5" stroke="#111" stroke-width="1.5"/>
<text x="0" y="0" transform="translate(694.1,1406.3) scale(0.78,1)" font-size="26.5" text-anchor="middle" fill="#111" font-weight="normal" >8</text>
<text x="0" y="0" transform="translate(396.1,1453.8) scale(0.742,1)" font-size="25.3" text-anchor="middle" fill="#111" font-weight="normal" >Number of Multi-Omics Clusters</text>
<text x="0" y="0" transform="translate(23.3,1068.6) rotate(-90) scale(1.372,1.0)" font-size="28" text-anchor="middle" fill="#2B3D8C" font-weight="normal" >Cluster Prediction Index</text>
<text x="0" y="0" transform="translate(781.5,1069.9) rotate(-90) scale(1.329,1.0)" font-size="29" text-anchor="middle" fill="#C00000" font-weight="normal" >Gap-statistics</text>
<g>
<line x1="1158.8" y1="1196.5" x2="1162.2" y2="978" stroke="#cfcfcf" stroke-width="1.4"/>
<path d="M1162.2 967 L1158.8 981 L1165.6 981 Z" fill="#666"/>
<line x1="1284" y1="1049.5" x2="1016" y2="1168.5" stroke="#a8a8a8" stroke-width="1.1"/>
<path d="M1011.5 1170.5 L1019 1164.8 L1020.5 1168.6 Z" fill="#222"/>
<line x1="1096" y1="1023" x2="1258.6" y2="1227.5" stroke="#b5b5b5" stroke-width="1.1"/>
<path d="M1092.5 1020.5 L1098.5 1022 L1095.5 1025.8 Z" fill="#222"/>
<text x="1161.5" y="959.3" font-size="15.8" text-anchor="middle" fill="#111" font-weight="normal" >PC 2</text>
<text x="1082.6" y="1017.3" font-size="15.8" text-anchor="middle" fill="#111" font-weight="normal" >PC 3</text>
<text x="992.5" y="1184.8" font-size="15.8" text-anchor="middle" fill="#111" font-weight="normal" >PC 1</text>
<path d="M1218.4 1100L1180.5 964.9M1218.4 1100L1189 968.4M1218.4 1100L1197.1 974.3M1218.4 1100L1213.8 998.2M1218.4 1100L1193.9 1007.6M1218.4 1100L1256.3 1026M1218.4 1100L1253.6 1031.8M1218.4 1100L1225.3 1037.3M1218.4 1100L1250.6 1042.1M1218.4 1100L1173.6 1045.6M1218.4 1100L1263.7 1060.3M1218.4 1100L1229.9 1065.5M1218.4 1100L1251.7 1067.1M1218.4 1100L1247.6 1072.9M1218.4 1100L1263.7 1074M1218.4 1100L1153 1081.6M1218.4 1100L1182.8 1087.4M1218.4 1100L1254 1087.4M1218.4 1100L1190.9 1098.8M1218.4 1100L1268.5 1100.7M1218.4 1100L1233.4 1108M1218.4 1100L1249.9 1105.7M1218.4 1100L1254 1110.8M1218.4 1100L1247.6 1116.1M1218.4 1100L1192 1124.8M1218.4 1100L1181.7 1126.4M1218.4 1100L1198.9 1134M1218.4 1100L1210.4 1134.5M1218.4 1100L1208.1 1143.6M1218.4 1100L1189.7 1152.8M1218.4 1100L1198.9 1164.3M1218.4 1100L1226.5 1171.2M1218.4 1100L1221.9 1177M1218.4 1100L1229.9 1178.1M1218.4 1100L1250.6 1176.3M1218.4 1100L1233.4 1187.3M1218.4 1100L1234.5 1201.1M1218.4 1100L1238 1203.4M1218.4 1100L1234.5 1219.5" stroke="#9CF7FA" stroke-width="1.4" fill="none"/>
<path d="M1150.7 1106.9L1110.5 1024.2M1150.7 1106.9L1102.9 1036.1M1150.7 1106.9L1132.8 1039.8M1150.7 1106.9L1166.8 1042.6M1150.7 1106.9L1156.4 1061.4M1150.7 1106.9L1156.4 1066.7M1150.7 1106.9L1097.8 1070.6M1150.7 1106.9L1103.6 1066.7M1150.7 1106.9L1116.2 1071.3M1150.7 1106.9L1130 1057.5M1150.7 1106.9L1147.2 1069.4M1150.7 1106.9L1164.5 1084.4M1150.7 1106.9L1142.6 1089.2M1150.7 1106.9L1130 1093.6M1150.7 1106.9L1123.1 1092M1150.7 1106.9L1174.8 1101.8M1150.7 1106.9L1131.1 1106.9M1150.7 1106.9L1150.7 1116.1M1150.7 1106.9L1157.6 1117.2M1150.7 1106.9L1177.1 1118.4M1150.7 1106.9L1184 1114.9M1150.7 1106.9L1186.3 1128.7M1150.7 1106.9L1200.1 1142.5M1150.7 1106.9L1209.3 1145.9M1150.7 1106.9L1212.7 1160.9M1150.7 1106.9L1217.3 1163.2M1150.7 1106.9L1207 1166.6M1150.7 1106.9L1213.9 1170.1M1150.7 1106.9L1224.2 1195.3M1150.7 1106.9L1226.9 1220.6M1150.7 1106.9L1167.9 1152.8M1150.7 1106.9L1134.6 1137.9M1150.7 1106.9L1103.6 1137.9M1150.7 1106.9L1097.8 1147.1M1150.7 1106.9L1108.2 1154M1150.7 1106.9L1102.4 1156.3M1150.7 1106.9L1110.5 1146M1150.7 1106.9L1171 1048.4M1150.7 1106.9L1138.1 1056.7M1150.7 1106.9L1124.5 1073.5M1150.7 1106.9L1143 1090M1150.7 1106.9L1185.8 1129.6M1150.7 1106.9L1190 1135M1150.7 1106.9L1195 1150" stroke="#D98A3A" stroke-width="1.1" fill="none"/>
<path d="M1123.1 1104.6L1091 951.8M1123.1 1104.6L1119.7 966.8M1123.1 1104.6L1107.7 973M1123.1 1104.6L1086.8 1015M1123.1 1104.6L1087.5 1035M1123.1 1104.6L1100.6 1064.4M1123.1 1104.6L1101.3 1078.6M1123.1 1104.6L1095.5 1110.3M1123.1 1104.6L1196.6 1106.4M1123.1 1104.6L1194.3 1118.8M1123.1 1104.6L1084.1 1140.2M1123.1 1104.6L1085.2 1160.9M1123.1 1104.6L1097.8 1154M1123.1 1104.6L1148.4 1172.4M1123.1 1104.6L1094.4 1196.5M1123.1 1104.6L1181.7 1159.7M1123.1 1104.6L1173.6 1145.9M1123.1 1104.6L1162.2 1133.3M1123.1 1104.6L1153 1139.1M1123.1 1104.6L1126.5 1145.9M1123.1 1104.6L1135.7 1129.9M1123.1 1104.6L1120.8 1044.9M1123.1 1104.6L1134.6 1050.6M1123.1 1104.6L1138 1058.6M1123.1 1104.6L1125 1063M1123.1 1104.6L1130 1077M1123.1 1104.6L1112 1040M1123.1 1104.6L1116 1058M1123.1 1104.6L1108 1150M1123.1 1104.6L1140 1120M1123.1 1104.6L1111.3 1033.6M1123.1 1104.6L1121.2 1044.7M1123.1 1104.6L1134 1043.9M1123.1 1104.6L1134.4 1050.9M1123.1 1104.6L1087.4 1034.8M1123.1 1104.6L1101.4 1122.1M1123.1 1104.6L1122 1120.5M1123.1 1104.6L1136 1130.4M1123.1 1104.6L1162.4 1133.7M1123.1 1104.6L1127 1080M1123.1 1104.6L1118 1070M1123.1 1104.6L1114 1120M1123.1 1104.6L1100 1130M1123.1 1104.6L1092.7 1137.3M1123.1 1104.6L1101 1135M1123.1 1104.6L1098.7 1155.4M1123.1 1104.6L1115.3 1156.2M1123.1 1104.6L1116 1151.6M1123.1 1104.6L1102.5 1172.8M1123.1 1104.6L1136.5 1130.5M1123.1 1104.6L1101.7 1122.2" stroke="#3A4A8A" stroke-width="1.2" fill="none"/>
<circle cx="1180.5" cy="964.9" r="2.7" fill="#88EEF2"/>
<path d="M1177.9 965.3Q1180.5 968.7 1183.1 965.3Q1180.5 966.7 1177.9 965.3Z" fill="#0a0a0a"/>
<circle cx="1189" cy="968.4" r="2.7" fill="#88EEF2"/>
<path d="M1186.4 968.8Q1189 972.2 1191.6 968.8Q1189 970.2 1186.4 968.8Z" fill="#0a0a0a"/>
<circle cx="1197.1" cy="974.3" r="2.7" fill="#88EEF2"/>
<path d="M1194.5 974.7Q1197.1 978.1 1199.7 974.7Q1197.1 976.1 1194.5 974.7Z" fill="#0a0a0a"/>
<circle cx="1213.8" cy="998.2" r="2.7" fill="#88EEF2"/>
<path d="M1211.2 998.6Q1213.8 1002 1216.4 998.6Q1213.8 1000 1211.2 998.6Z" fill="#0a0a0a"/>
<circle cx="1193.9" cy="1007.6" r="2.7" fill="#88EEF2"/>
<path d="M1191.3 1008Q1193.9 1011.4 1196.5 1008Q1193.9 1009.4 1191.3 1008Z" fill="#0a0a0a"/>
<circle cx="1256.3" cy="1026" r="2.7" fill="#88EEF2"/>
<path d="M1253.7 1026.4Q1256.3 1029.8 1258.9 1026.4Q1256.3 1027.8 1253.7 1026.4Z" fill="#0a0a0a"/>
<circle cx="1253.6" cy="1031.8" r="2.7" fill="#88EEF2"/>
<path d="M1251 1032.2Q1253.6 1035.6 1256.2 1032.2Q1253.6 1033.6 1251 1032.2Z" fill="#0a0a0a"/>
<circle cx="1225.3" cy="1037.3" r="2.7" fill="#88EEF2"/>
<path d="M1222.7 1037.7Q1225.3 1041.1 1227.9 1037.7Q1225.3 1039.1 1222.7 1037.7Z" fill="#0a0a0a"/>
<circle cx="1250.6" cy="1042.1" r="2.7" fill="#88EEF2"/>
<path d="M1248 1042.5Q1250.6 1045.9 1253.2 1042.5Q1250.6 1043.9 1248 1042.5Z" fill="#0a0a0a"/>
<circle cx="1173.6" cy="1045.6" r="2.7" fill="#88EEF2"/>
<path d="M1171 1046Q1173.6 1049.4 1176.2 1046Q1173.6 1047.4 1171 1046Z" fill="#0a0a0a"/>
<circle cx="1263.7" cy="1060.3" r="2.7" fill="#88EEF2"/>
<path d="M1261.1 1060.7Q1263.7 1064.1 1266.3 1060.7Q1263.7 1062.1 1261.1 1060.7Z" fill="#0a0a0a"/>
<circle cx="1229.9" cy="1065.5" r="2.7" fill="#88EEF2"/>
<path d="M1227.3 1065.9Q1229.9 1069.3 1232.5 1065.9Q1229.9 1067.3 1227.3 1065.9Z" fill="#0a0a0a"/>
<circle cx="1251.7" cy="1067.1" r="2.7" fill="#88EEF2"/>
<path d="M1249.1 1067.5Q1251.7 1070.9 1254.3 1067.5Q1251.7 1068.9 1249.1 1067.5Z" fill="#0a0a0a"/>
<circle cx="1247.6" cy="1072.9" r="2.7" fill="#88EEF2"/>
<path d="M1245 1073.3Q1247.6 1076.7 1250.2 1073.3Q1247.6 1074.7 1245 1073.3Z" fill="#0a0a0a"/>
<circle cx="1263.7" cy="1074" r="2.7" fill="#88EEF2"/>
<path d="M1261.1 1074.4Q1263.7 1077.8 1266.3 1074.4Q1263.7 1075.8 1261.1 1074.4Z" fill="#0a0a0a"/>
<circle cx="1153" cy="1081.6" r="2.7" fill="#88EEF2"/>
<path d="M1150.4 1082Q1153 1085.4 1155.6 1082Q1153 1083.4 1150.4 1082Z" fill="#0a0a0a"/>
<circle cx="1182.8" cy="1087.4" r="2.7" fill="#88EEF2"/>
<path d="M1180.2 1087.8Q1182.8 1091.2 1185.4 1087.8Q1182.8 1089.2 1180.2 1087.8Z" fill="#0a0a0a"/>
<circle cx="1254" cy="1087.4" r="2.7" fill="#88EEF2"/>
<path d="M1251.4 1087.8Q1254 1091.2 1256.6 1087.8Q1254 1089.2 1251.4 1087.8Z" fill="#0a0a0a"/>
<circle cx="1190.9" cy="1098.8" r="2.7" fill="#88EEF2"/>
<path d="M1188.3 1099.2Q1190.9 1102.6 1193.5 1099.2Q1190.9 1100.6 1188.3 1099.2Z" fill="#0a0a0a"/>
<circle cx="1268.5" cy="1100.7" r="2.7" fill="#88EEF2"/>
<path d="M1265.9 1101.1Q1268.5 1104.5 1271.1 1101.1Q1268.5 1102.5 1265.9 1101.1Z" fill="#0a0a0a"/>
<circle cx="1233.4" cy="1108" r="2.7" fill="#88EEF2"/>
<path d="M1230.8 1108.4Q1233.4 1111.8 1236 1108.4Q1233.4 1109.8 1230.8 1108.4Z" fill="#0a0a0a"/>
<circle cx="1249.9" cy="1105.7" r="2.7" fill="#88EEF2"/>
<path d="M1247.3 1106.1Q1249.9 1109.5 1252.5 1106.1Q1249.9 1107.5 1247.3 1106.1Z" fill="#0a0a0a"/>
<circle cx="1254" cy="1110.8" r="2.7" fill="#88EEF2"/>
<path d="M1251.4 1111.2Q1254 1114.6 1256.6 1111.2Q1254 1112.6 1251.4 1111.2Z" fill="#0a0a0a"/>
<circle cx="1247.6" cy="1116.1" r="2.7" fill="#88EEF2"/>
<path d="M1245 1116.5Q1247.6 1119.9 1250.2 1116.5Q1247.6 1117.9 1245 1116.5Z" fill="#0a0a0a"/>
<circle cx="1192" cy="1124.8" r="2.7" fill="#88EEF2"/>
<path d="M1189.4 1125.2Q1192 1128.6 1194.6 1125.2Q1192 1126.6 1189.4 1125.2Z" fill="#0a0a0a"/>
<circle cx="1181.7" cy="1126.4" r="2.7" fill="#88EEF2"/>
<path d="M1179.1 1126.8Q1181.7 1130.2 1184.3 1126.8Q1181.7 1128.2 1179.1 1126.8Z" fill="#0a0a0a"/>
<circle cx="1198.9" cy="1134" r="2.7" fill="#88EEF2"/>
<path d="M1196.3 1134.4Q1198.9 1137.8 1201.5 1134.4Q1198.9 1135.8 1196.3 1134.4Z" fill="#0a0a0a"/>
<circle cx="1210.4" cy="1134.5" r="2.7" fill="#88EEF2"/>
<path d="M1207.8 1134.9Q1210.4 1138.3 1213 1134.9Q1210.4 1136.3 1207.8 1134.9Z" fill="#0a0a0a"/>
<circle cx="1208.1" cy="1143.6" r="2.7" fill="#88EEF2"/>
<path d="M1205.5 1144Q1208.1 1147.4 1210.7 1144Q1208.1 1145.4 1205.5 1144Z" fill="#0a0a0a"/>
<circle cx="1189.7" cy="1152.8" r="2.7" fill="#88EEF2"/>
<path d="M1187.1 1153.2Q1189.7 1156.6 1192.3 1153.2Q1189.7 1154.6 1187.1 1153.2Z" fill="#0a0a0a"/>
<circle cx="1198.9" cy="1164.3" r="2.7" fill="#88EEF2"/>
<path d="M1196.3 1164.7Q1198.9 1168.1 1201.5 1164.7Q1198.9 1166.1 1196.3 1164.7Z" fill="#0a0a0a"/>
<circle cx="1226.5" cy="1171.2" r="2.7" fill="#88EEF2"/>
<path d="M1223.9 1171.6Q1226.5 1175 1229.1 1171.6Q1226.5 1173 1223.9 1171.6Z" fill="#0a0a0a"/>
<circle cx="1221.9" cy="1177" r="2.7" fill="#88EEF2"/>
<path d="M1219.3 1177.4Q1221.9 1180.8 1224.5 1177.4Q1221.9 1178.8 1219.3 1177.4Z" fill="#0a0a0a"/>
<circle cx="1229.9" cy="1178.1" r="2.7" fill="#88EEF2"/>
<path d="M1227.3 1178.5Q1229.9 1181.9 1232.5 1178.5Q1229.9 1179.9 1227.3 1178.5Z" fill="#0a0a0a"/>
<circle cx="1250.6" cy="1176.3" r="2.7" fill="#88EEF2"/>
<path d="M1248 1176.7Q1250.6 1180.1 1253.2 1176.7Q1250.6 1178.1 1248 1176.7Z" fill="#0a0a0a"/>
<circle cx="1233.4" cy="1187.3" r="2.7" fill="#88EEF2"/>
<path d="M1230.8 1187.7Q1233.4 1191.1 1236 1187.7Q1233.4 1189.1 1230.8 1187.7Z" fill="#0a0a0a"/>
<circle cx="1234.5" cy="1201.1" r="2.7" fill="#88EEF2"/>
<path d="M1231.9 1201.5Q1234.5 1204.9 1237.1 1201.5Q1234.5 1202.9 1231.9 1201.5Z" fill="#0a0a0a"/>
<circle cx="1238" cy="1203.4" r="2.7" fill="#88EEF2"/>
<path d="M1235.4 1203.8Q1238 1207.2 1240.6 1203.8Q1238 1205.2 1235.4 1203.8Z" fill="#0a0a0a"/>
<circle cx="1234.5" cy="1219.5" r="2.7" fill="#88EEF2"/>
<path d="M1231.9 1219.9Q1234.5 1223.3 1237.1 1219.9Q1234.5 1221.3 1231.9 1219.9Z" fill="#0a0a0a"/>
<path d="M1091 948.8Q1091.6 951.2 1094 951.8Q1091.6 952.4 1091 954.8Q1090.4 952.4 1088 951.8Q1090.4 951.2 1091 948.8Z" fill="#2B3A78"/>
<path d="M1119.7 963.8Q1120.3 966.2 1122.7 966.8Q1120.3 967.4 1119.7 969.8Q1119.1 967.4 1116.7 966.8Q1119.1 966.2 1119.7 963.8Z" fill="#2B3A78"/>
<path d="M1107.7 970Q1108.3 972.4 1110.7 973Q1108.3 973.6 1107.7 976Q1107.1 973.6 1104.7 973Q1107.1 972.4 1107.7 970Z" fill="#2B3A78"/>
<path d="M1086.8 1012Q1087.4 1014.4 1089.8 1015Q1087.4 1015.6 1086.8 1018Q1086.2 1015.6 1083.8 1015Q1086.2 1014.4 1086.8 1012Z" fill="#2B3A78"/>
<path d="M1087.5 1032Q1088.1 1034.4 1090.5 1035Q1088.1 1035.6 1087.5 1038Q1086.9 1035.6 1084.5 1035Q1086.9 1034.4 1087.5 1032Z" fill="#2B3A78"/>
<path d="M1100.6 1061.4Q1101.2 1063.8 1103.6 1064.4Q1101.2 1065 1100.6 1067.4Q1100 1065 1097.6 1064.4Q1100 1063.8 1100.6 1061.4Z" fill="#2B3A78"/>
<path d="M1101.3 1075.6Q1101.9 1078 1104.3 1078.6Q1101.9 1079.2 1101.3 1081.6Q1100.7 1079.2 1098.3 1078.6Q1100.7 1078 1101.3 1075.6Z" fill="#2B3A78"/>
<path d="M1095.5 1107.3Q1096.1 1109.7 1098.5 1110.3Q1096.1 1110.9 1095.5 1113.3Q1094.9 1110.9 1092.5 1110.3Q1094.9 1109.7 1095.5 1107.3Z" fill="#2B3A78"/>
<path d="M1196.6 1103.4Q1197.2 1105.8 1199.6 1106.4Q1197.2 1107 1196.6 1109.4Q1196 1107 1193.6 1106.4Q1196 1105.8 1196.6 1103.4Z" fill="#2B3A78"/>
<path d="M1194.3 1115.8Q1194.9 1118.2 1197.3 1118.8Q1194.9 1119.4 1194.3 1121.8Q1193.7 1119.4 1191.3 1118.8Q1193.7 1118.2 1194.3 1115.8Z" fill="#2B3A78"/>
<path d="M1084.1 1137.2Q1084.7 1139.6 1087.1 1140.2Q1084.7 1140.8 1084.1 1143.2Q1083.5 1140.8 1081.1 1140.2Q1083.5 1139.6 1084.1 1137.2Z" fill="#2B3A78"/>
<path d="M1085.2 1157.9Q1085.8 1160.3 1088.2 1160.9Q1085.8 1161.5 1085.2 1163.9Q1084.6 1161.5 1082.2 1160.9Q1084.6 1160.3 1085.2 1157.9Z" fill="#2B3A78"/>
<path d="M1097.8 1151Q1098.4 1153.4 1100.8 1154Q1098.4 1154.6 1097.8 1157Q1097.2 1154.6 1094.8 1154Q1097.2 1153.4 1097.8 1151Z" fill="#2B3A78"/>
<path d="M1148.4 1169.4Q1149 1171.8 1151.4 1172.4Q1149 1173 1148.4 1175.4Q1147.8 1173 1145.4 1172.4Q1147.8 1171.8 1148.4 1169.4Z" fill="#2B3A78"/>
<path d="M1094.4 1193.5Q1095 1195.9 1097.4 1196.5Q1095 1197.1 1094.4 1199.5Q1093.8 1197.1 1091.4 1196.5Q1093.8 1195.9 1094.4 1193.5Z" fill="#2B3A78"/>
<path d="M1181.7 1156.7Q1182.3 1159.1 1184.7 1159.7Q1182.3 1160.3 1181.7 1162.7Q1181.1 1160.3 1178.7 1159.7Q1181.1 1159.1 1181.7 1156.7Z" fill="#2B3A78"/>
<path d="M1173.6 1142.9Q1174.2 1145.3 1176.6 1145.9Q1174.2 1146.5 1173.6 1148.9Q1173 1146.5 1170.6 1145.9Q1173 1145.3 1173.6 1142.9Z" fill="#2B3A78"/>
<path d="M1162.2 1130.3Q1162.8 1132.7 1165.2 1133.3Q1162.8 1133.9 1162.2 1136.3Q1161.6 1133.9 1159.2 1133.3Q1161.6 1132.7 1162.2 1130.3Z" fill="#2B3A78"/>
<path d="M1153 1136.1Q1153.6 1138.5 1156 1139.1Q1153.6 1139.7 1153 1142.1Q1152.4 1139.7 1150 1139.1Q1152.4 1138.5 1153 1136.1Z" fill="#2B3A78"/>
<path d="M1126.5 1142.9Q1127.1 1145.3 1129.5 1145.9Q1127.1 1146.5 1126.5 1148.9Q1125.9 1146.5 1123.5 1145.9Q1125.9 1145.3 1126.5 1142.9Z" fill="#2B3A78"/>
<path d="M1135.7 1126.9Q1136.3 1129.3 1138.7 1129.9Q1136.3 1130.5 1135.7 1132.9Q1135.1 1130.5 1132.7 1129.9Q1135.1 1129.3 1135.7 1126.9Z" fill="#2B3A78"/>
<path d="M1120.8 1041.9Q1121.4 1044.3 1123.8 1044.9Q1121.4 1045.5 1120.8 1047.9Q1120.2 1045.5 1117.8 1044.9Q1120.2 1044.3 1120.8 1041.9Z" fill="#2B3A78"/>
<path d="M1134.6 1047.6Q1135.2 1050 1137.6 1050.6Q1135.2 1051.2 1134.6 1053.6Q1134 1051.2 1131.6 1050.6Q1134 1050 1134.6 1047.6Z" fill="#2B3A78"/>
<path d="M1138 1055.6Q1138.6 1058 1141 1058.6Q1138.6 1059.2 1138 1061.6Q1137.4 1059.2 1135 1058.6Q1137.4 1058 1138 1055.6Z" fill="#2B3A78"/>
<path d="M1125 1060Q1125.6 1062.4 1128 1063Q1125.6 1063.6 1125 1066Q1124.4 1063.6 1122 1063Q1124.4 1062.4 1125 1060Z" fill="#2B3A78"/>
<path d="M1130 1074Q1130.6 1076.4 1133 1077Q1130.6 1077.6 1130 1080Q1129.4 1077.6 1127 1077Q1129.4 1076.4 1130 1074Z" fill="#2B3A78"/>
<path d="M1112 1037Q1112.6 1039.4 1115 1040Q1112.6 1040.6 1112 1043Q1111.4 1040.6 1109 1040Q1111.4 1039.4 1112 1037Z" fill="#2B3A78"/>
<path d="M1116 1055Q1116.6 1057.4 1119 1058Q1116.6 1058.6 1116 1061Q1115.4 1058.6 1113 1058Q1115.4 1057.4 1116 1055Z" fill="#2B3A78"/>
<path d="M1108 1147Q1108.6 1149.4 1111 1150Q1108.6 1150.6 1108 1153Q1107.4 1150.6 1105 1150Q1107.4 1149.4 1108 1147Z" fill="#2B3A78"/>
<path d="M1140 1117Q1140.6 1119.4 1143 1120Q1140.6 1120.6 1140 1123Q1139.4 1120.6 1137 1120Q1139.4 1119.4 1140 1117Z" fill="#2B3A78"/>
<path d="M1111.3 1030.6Q1111.9 1033 1114.3 1033.6Q1111.9 1034.2 1111.3 1036.6Q1110.7 1034.2 1108.3 1033.6Q1110.7 1033 1111.3 1030.6Z" fill="#2B3A78"/>
<path d="M1121.2 1041.7Q1121.8 1044.1 1124.2 1044.7Q1121.8 1045.3 1121.2 1047.7Q1120.6 1045.3 1118.2 1044.7Q1120.6 1044.1 1121.2 1041.7Z" fill="#2B3A78"/>
<path d="M1134 1040.9Q1134.6 1043.3 1137 1043.9Q1134.6 1044.5 1134 1046.9Q1133.4 1044.5 1131 1043.9Q1133.4 1043.3 1134 1040.9Z" fill="#2B3A78"/>
<path d="M1134.4 1047.9Q1135 1050.3 1137.4 1050.9Q1135 1051.5 1134.4 1053.9Q1133.8 1051.5 1131.4 1050.9Q1133.8 1050.3 1134.4 1047.9Z" fill="#2B3A78"/>
<path d="M1087.4 1031.8Q1088 1034.2 1090.4 1034.8Q1088 1035.4 1087.4 1037.8Q1086.8 1035.4 1084.4 1034.8Q1086.8 1034.2 1087.4 1031.8Z" fill="#2B3A78"/>
<path d="M1101.4 1119.1Q1102 1121.5 1104.4 1122.1Q1102 1122.7 1101.4 1125.1Q1100.8 1122.7 1098.4 1122.1Q1100.8 1121.5 1101.4 1119.1Z" fill="#2B3A78"/>
<path d="M1122 1117.5Q1122.6 1119.9 1125 1120.5Q1122.6 1121.1 1122 1123.5Q1121.4 1121.1 1119 1120.5Q1121.4 1119.9 1122 1117.5Z" fill="#2B3A78"/>
<path d="M1136 1127.4Q1136.6 1129.8 1139 1130.4Q1136.6 1131 1136 1133.4Q1135.4 1131 1133 1130.4Q1135.4 1129.8 1136 1127.4Z" fill="#2B3A78"/>
<path d="M1162.4 1130.7Q1163 1133.1 1165.4 1133.7Q1163 1134.3 1162.4 1136.7Q1161.8 1134.3 1159.4 1133.7Q1161.8 1133.1 1162.4 1130.7Z" fill="#2B3A78"/>
<path d="M1127 1077Q1127.6 1079.4 1130 1080Q1127.6 1080.6 1127 1083Q1126.4 1080.6 1124 1080Q1126.4 1079.4 1127 1077Z" fill="#2B3A78"/>
<path d="M1118 1067Q1118.6 1069.4 1121 1070Q1118.6 1070.6 1118 1073Q1117.4 1070.6 1115 1070Q1117.4 1069.4 1118 1067Z" fill="#2B3A78"/>
<path d="M1114 1117Q1114.6 1119.4 1117 1120Q1114.6 1120.6 1114 1123Q1113.4 1120.6 1111 1120Q1113.4 1119.4 1114 1117Z" fill="#2B3A78"/>
<path d="M1100 1127Q1100.6 1129.4 1103 1130Q1100.6 1130.6 1100 1133Q1099.4 1130.6 1097 1130Q1099.4 1129.4 1100 1127Z" fill="#2B3A78"/>
<path d="M1092.7 1134.3Q1093.3 1136.7 1095.7 1137.3Q1093.3 1137.9 1092.7 1140.3Q1092.1 1137.9 1089.7 1137.3Q1092.1 1136.7 1092.7 1134.3Z" fill="#2B3A78"/>
<path d="M1101 1132Q1101.6 1134.4 1104 1135Q1101.6 1135.6 1101 1138Q1100.4 1135.6 1098 1135Q1100.4 1134.4 1101 1132Z" fill="#2B3A78"/>
<path d="M1098.7 1152.4Q1099.3 1154.8 1101.7 1155.4Q1099.3 1156 1098.7 1158.4Q1098.1 1156 1095.7 1155.4Q1098.1 1154.8 1098.7 1152.4Z" fill="#2B3A78"/>
<path d="M1115.3 1153.2Q1115.9 1155.6 1118.3 1156.2Q1115.9 1156.8 1115.3 1159.2Q1114.7 1156.8 1112.3 1156.2Q1114.7 1155.6 1115.3 1153.2Z" fill="#2B3A78"/>
<path d="M1116 1148.6Q1116.6 1151 1119 1151.6Q1116.6 1152.2 1116 1154.6Q1115.4 1152.2 1113 1151.6Q1115.4 1151 1116 1148.6Z" fill="#2B3A78"/>
<path d="M1102.5 1169.8Q1103.1 1172.2 1105.5 1172.8Q1103.1 1173.4 1102.5 1175.8Q1101.9 1173.4 1099.5 1172.8Q1101.9 1172.2 1102.5 1169.8Z" fill="#2B3A78"/>
<path d="M1136.5 1127.5Q1137.1 1129.9 1139.5 1130.5Q1137.1 1131.1 1136.5 1133.5Q1135.9 1131.1 1133.5 1130.5Q1135.9 1129.9 1136.5 1127.5Z" fill="#2B3A78"/>
<path d="M1101.7 1119.2Q1102.3 1121.6 1104.7 1122.2Q1102.3 1122.8 1101.7 1125.2Q1101.1 1122.8 1098.7 1122.2Q1101.1 1121.6 1101.7 1119.2Z" fill="#2B3A78"/>
<rect x="1107.9" y="1021.4" width="5.2" height="5.2" fill="#F0AE35"/>
<path d="M1107.9 1024.4L1110.5 1023.4L1113.1 1024.4L1113.1 1026.6L1107.9 1026.6Z" fill="#111"/>
<rect x="1100.3" y="1033.3" width="5.2" height="5.2" fill="#F0AE35"/>
<path d="M1100.3 1036.3L1102.9 1035.3L1105.5 1036.3L1105.5 1038.5L1100.3 1038.5Z" fill="#111"/>
<rect x="1130.2" y="1037" width="5.2" height="5.2" fill="#F0AE35"/>
<path d="M1130.2 1040L1132.8 1039L1135.4 1040L1135.4 1042.2L1130.2 1042.2Z" fill="#111"/>
<rect x="1164.2" y="1039.8" width="5.2" height="5.2" fill="#F0AE35"/>
<path d="M1164.2 1042.8L1166.8 1041.8L1169.4 1042.8L1169.4 1045L1164.2 1045Z" fill="#111"/>
<rect x="1153.8" y="1058.6" width="5.2" height="5.2" fill="#F0AE35"/>
<path d="M1153.8 1061.6L1156.4 1060.6L1159 1061.6L1159 1063.8L1153.8 1063.8Z" fill="#111"/>
<rect x="1153.8" y="1063.9" width="5.2" height="5.2" fill="#F0AE35"/>
<path d="M1153.8 1066.9L1156.4 1065.9L1159 1066.9L1159 1069.1L1153.8 1069.1Z" fill="#111"/>
<rect x="1095.2" y="1067.8" width="5.2" height="5.2" fill="#F0AE35"/>
<path d="M1095.2 1070.8L1097.8 1069.8L1100.4 1070.8L1100.4 1073L1095.2 1073Z" fill="#111"/>
<rect x="1101" y="1063.9" width="5.2" height="5.2" fill="#F0AE35"/>
<path d="M1101 1066.9L1103.6 1065.9L1106.2 1066.9L1106.2 1069.1L1101 1069.1Z" fill="#111"/>
<rect x="1113.6" y="1068.5" width="5.2" height="5.2" fill="#F0AE35"/>
<path d="M1113.6 1071.5L1116.2 1070.5L1118.8 1071.5L1118.8 1073.7L1113.6 1073.7Z" fill="#111"/>
<rect x="1127.4" y="1054.7" width="5.2" height="5.2" fill="#F0AE35"/>
<path d="M1127.4 1057.7L1130 1056.7L1132.6 1057.7L1132.6 1059.9L1127.4 1059.9Z" fill="#111"/>
<rect x="1144.6" y="1066.6" width="5.2" height="5.2" fill="#F0AE35"/>
<path d="M1144.6 1069.6L1147.2 1068.6L1149.8 1069.6L1149.8 1071.8L1144.6 1071.8Z" fill="#111"/>
<rect x="1161.9" y="1081.6" width="5.2" height="5.2" fill="#F0AE35"/>
<path d="M1161.9 1084.6L1164.5 1083.6L1167.1 1084.6L1167.1 1086.8L1161.9 1086.8Z" fill="#111"/>
<rect x="1140" y="1086.4" width="5.2" height="5.2" fill="#F0AE35"/>
<path d="M1140 1089.4L1142.6 1088.4L1145.2 1089.4L1145.2 1091.6L1140 1091.6Z" fill="#111"/>
<rect x="1127.4" y="1090.8" width="5.2" height="5.2" fill="#F0AE35"/>
<path d="M1127.4 1093.8L1130 1092.8L1132.6 1093.8L1132.6 1096L1127.4 1096Z" fill="#111"/>
<rect x="1120.5" y="1089.2" width="5.2" height="5.2" fill="#F0AE35"/>
<path d="M1120.5 1092.2L1123.1 1091.2L1125.7 1092.2L1125.7 1094.4L1120.5 1094.4Z" fill="#111"/>
<rect x="1172.2" y="1099" width="5.2" height="5.2" fill="#F0AE35"/>
<path d="M1172.2 1102L1174.8 1101L1177.4 1102L1177.4 1104.2L1172.2 1104.2Z" fill="#111"/>
<rect x="1128.5" y="1104.1" width="5.2" height="5.2" fill="#F0AE35"/>
<path d="M1128.5 1107.1L1131.1 1106.1L1133.7 1107.1L1133.7 1109.3L1128.5 1109.3Z" fill="#111"/>
<rect x="1148.1" y="1113.3" width="5.2" height="5.2" fill="#F0AE35"/>
<path d="M1148.1 1116.3L1150.7 1115.3L1153.3 1116.3L1153.3 1118.5L1148.1 1118.5Z" fill="#111"/>
<rect x="1155" y="1114.4" width="5.2" height="5.2" fill="#F0AE35"/>
<path d="M1155 1117.4L1157.6 1116.4L1160.2 1117.4L1160.2 1119.6L1155 1119.6Z" fill="#111"/>
<rect x="1174.5" y="1115.6" width="5.2" height="5.2" fill="#F0AE35"/>
<path d="M1174.5 1118.6L1177.1 1117.6L1179.7 1118.6L1179.7 1120.8L1174.5 1120.8Z" fill="#111"/>
<rect x="1181.4" y="1112.1" width="5.2" height="5.2" fill="#F0AE35"/>
<path d="M1181.4 1115.1L1184 1114.1L1186.6 1115.1L1186.6 1117.3L1181.4 1117.3Z" fill="#111"/>
<rect x="1183.7" y="1125.9" width="5.2" height="5.2" fill="#F0AE35"/>
<path d="M1183.7 1128.9L1186.3 1127.9L1188.9 1128.9L1188.9 1131.1L1183.7 1131.1Z" fill="#111"/>
<rect x="1197.5" y="1139.7" width="5.2" height="5.2" fill="#F0AE35"/>
<path d="M1197.5 1142.7L1200.1 1141.7L1202.7 1142.7L1202.7 1144.9L1197.5 1144.9Z" fill="#111"/>
<rect x="1206.7" y="1143.1" width="5.2" height="5.2" fill="#F0AE35"/>
<path d="M1206.7 1146.1L1209.3 1145.1L1211.9 1146.1L1211.9 1148.3L1206.7 1148.3Z" fill="#111"/>
<rect x="1210.1" y="1158.1" width="5.2" height="5.2" fill="#F0AE35"/>
<path d="M1210.1 1161.1L1212.7 1160.1L1215.3 1161.1L1215.3 1163.3L1210.1 1163.3Z" fill="#111"/>
<rect x="1214.7" y="1160.4" width="5.2" height="5.2" fill="#F0AE35"/>
<path d="M1214.7 1163.4L1217.3 1162.4L1219.9 1163.4L1219.9 1165.6L1214.7 1165.6Z" fill="#111"/>
<rect x="1204.4" y="1163.8" width="5.2" height="5.2" fill="#F0AE35"/>
<path d="M1204.4 1166.8L1207 1165.8L1209.6 1166.8L1209.6 1169L1204.4 1169Z" fill="#111"/>
<rect x="1211.3" y="1167.3" width="5.2" height="5.2" fill="#F0AE35"/>
<path d="M1211.3 1170.3L1213.9 1169.3L1216.5 1170.3L1216.5 1172.5L1211.3 1172.5Z" fill="#111"/>
<rect x="1221.6" y="1192.5" width="5.2" height="5.2" fill="#F0AE35"/>
<path d="M1221.6 1195.5L1224.2 1194.5L1226.8 1195.5L1226.8 1197.7L1221.6 1197.7Z" fill="#111"/>
<rect x="1224.3" y="1217.8" width="5.2" height="5.2" fill="#F0AE35"/>
<path d="M1224.3 1220.8L1226.9 1219.8L1229.5 1220.8L1229.5 1223L1224.3 1223Z" fill="#111"/>
<rect x="1165.3" y="1150" width="5.2" height="5.2" fill="#F0AE35"/>
<path d="M1165.3 1153L1167.9 1152L1170.5 1153L1170.5 1155.2L1165.3 1155.2Z" fill="#111"/>
<rect x="1132" y="1135.1" width="5.2" height="5.2" fill="#F0AE35"/>
<path d="M1132 1138.1L1134.6 1137.1L1137.2 1138.1L1137.2 1140.3L1132 1140.3Z" fill="#111"/>
<rect x="1101" y="1135.1" width="5.2" height="5.2" fill="#F0AE35"/>
<path d="M1101 1138.1L1103.6 1137.1L1106.2 1138.1L1106.2 1140.3L1101 1140.3Z" fill="#111"/>
<rect x="1095.2" y="1144.3" width="5.2" height="5.2" fill="#F0AE35"/>
<path d="M1095.2 1147.3L1097.8 1146.3L1100.4 1147.3L1100.4 1149.5L1095.2 1149.5Z" fill="#111"/>
<rect x="1105.6" y="1151.2" width="5.2" height="5.2" fill="#F0AE35"/>
<path d="M1105.6 1154.2L1108.2 1153.2L1110.8 1154.2L1110.8 1156.4L1105.6 1156.4Z" fill="#111"/>
<rect x="1099.8" y="1153.5" width="5.2" height="5.2" fill="#F0AE35"/>
<path d="M1099.8 1156.5L1102.4 1155.5L1105 1156.5L1105 1158.7L1099.8 1158.7Z" fill="#111"/>
<rect x="1107.9" y="1143.2" width="5.2" height="5.2" fill="#F0AE35"/>
<path d="M1107.9 1146.2L1110.5 1145.2L1113.1 1146.2L1113.1 1148.4L1107.9 1148.4Z" fill="#111"/>
<rect x="1168.4" y="1045.6" width="5.2" height="5.2" fill="#F0AE35"/>
<path d="M1168.4 1048.6L1171 1047.6L1173.6 1048.6L1173.6 1050.8L1168.4 1050.8Z" fill="#111"/>
<rect x="1135.5" y="1053.9" width="5.2" height="5.2" fill="#F0AE35"/>
<path d="M1135.5 1056.9L1138.1 1055.9L1140.7 1056.9L1140.7 1059.1L1135.5 1059.1Z" fill="#111"/>
<rect x="1121.9" y="1070.7" width="5.2" height="5.2" fill="#F0AE35"/>
<path d="M1121.9 1073.7L1124.5 1072.7L1127.1 1073.7L1127.1 1075.9L1121.9 1075.9Z" fill="#111"/>
<rect x="1140.4" y="1087.2" width="5.2" height="5.2" fill="#F0AE35"/>
<path d="M1140.4 1090.2L1143 1089.2L1145.6 1090.2L1145.6 1092.4L1140.4 1092.4Z" fill="#111"/>
<rect x="1183.2" y="1126.8" width="5.2" height="5.2" fill="#F0AE35"/>
<path d="M1183.2 1129.8L1185.8 1128.8L1188.4 1129.8L1188.4 1132L1183.2 1132Z" fill="#111"/>
<rect x="1187.4" y="1132.2" width="5.2" height="5.2" fill="#F0AE35"/>
<path d="M1187.4 1135.2L1190 1134.2L1192.6 1135.2L1192.6 1137.4L1187.4 1137.4Z" fill="#111"/>
<rect x="1192.4" y="1147.2" width="5.2" height="5.2" fill="#F0AE35"/>
<path d="M1192.4 1150.2L1195 1149.2L1197.6 1150.2L1197.6 1152.4L1192.4 1152.4Z" fill="#111"/>
</g>
<circle cx="825.9" cy="772.3" r="2.2" fill="#8EF0F5"/>
<text x="836.8" y="778.4" font-size="12.3" text-anchor="start" fill="#222" font-weight="normal" >C1</text>
<path d="M825.9 784.3 L828.6 789 L823.2 789 Z" fill="#3B4A8A"/>
<text x="836.8" y="793.5" font-size="12.3" text-anchor="start" fill="#222" font-weight="normal" >C2</text>
<rect x="823.9" y="800.7" width="4" height="4" fill="#D9822B"/>
<text x="836.8" y="809.3" font-size="12.3" text-anchor="start" fill="#222" font-weight="normal" >C3</text>
</svg></body></html>
